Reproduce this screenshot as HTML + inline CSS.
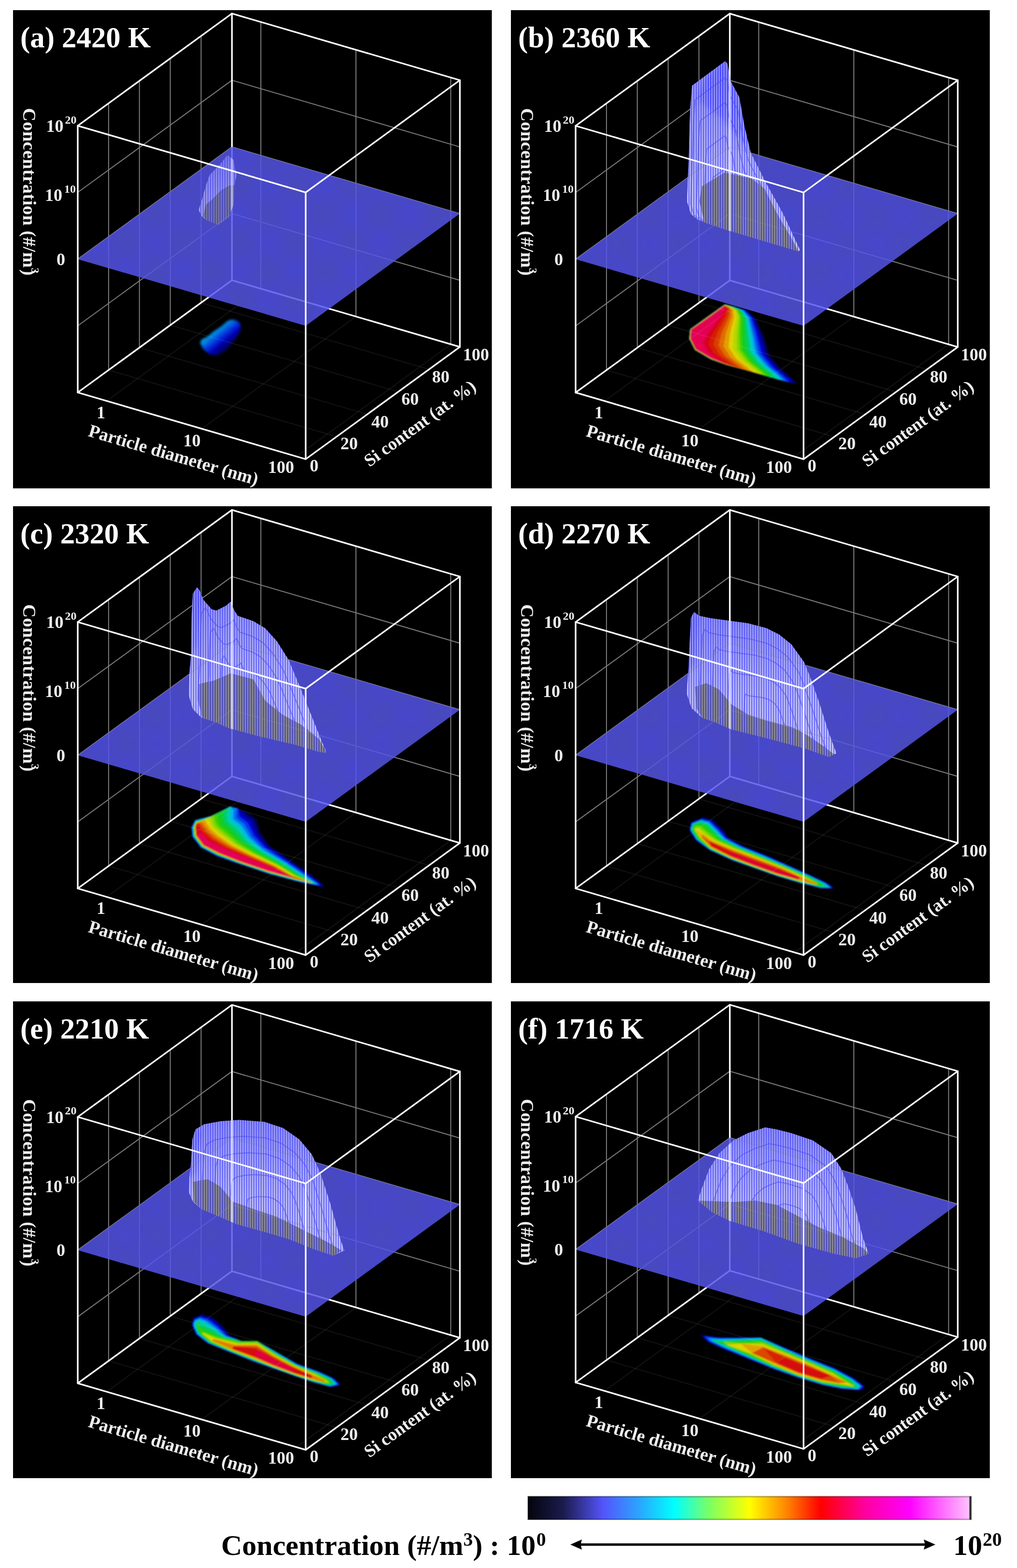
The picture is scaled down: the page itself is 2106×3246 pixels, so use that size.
<!DOCTYPE html>
<html lang="en"><head><meta charset="utf-8"><title>Concentration distributions</title>
<style>
html,body{margin:0;padding:0;background:#fff}
svg{display:block}
text{font-family:'Liberation Serif','DejaVu Serif',serif}
.tt{font-size:60.8px;fill:#fff;font-weight:bold}
.al{font-size:37.6px;fill:#eee;font-weight:bold}
.sp{font-size:23px}
.tk{font-size:36px;fill:#eee;font-weight:bold}
.ts{font-size:24px}
.tm{text-anchor:middle}
.fg{stroke:#fff;stroke-opacity:.075;stroke-width:2}
.wg{stroke:#7c7c7c;stroke-width:2}
.be{stroke:#fff;stroke-width:3.3;fill:none;stroke-linejoin:round;stroke-linecap:round}
.pl{fill:#5656f4;fill-opacity:.8}
.bt{font-size:60px;fill:#000;font-weight:bold}
.bs{font-size:39.5px}
</style></head><body>
<svg width="2106" height="3246" viewBox="0 0 2106 3246">
<defs>
<pattern id="chk" width="4" height="4" patternUnits="userSpaceOnUse"><rect width="2" height="2" fill="#3030ff" fill-opacity=".25"/><rect x="2" y="2" width="2" height="2" fill="#3030ff" fill-opacity=".25"/><rect x="2" width="2" height="2" fill="#808080" fill-opacity=".18"/><rect y="2" width="2" height="2" fill="#808080" fill-opacity=".18"/></pattern>
<linearGradient id="cbar" x1="0" x2="1" y1="0" y2="0">
<stop offset="0" stop-color="#04040c"/>
<stop offset="0.08" stop-color="#1b1b4e"/>
<stop offset="0.17" stop-color="#5454fb"/>
<stop offset="0.25" stop-color="#2ba4ff"/>
<stop offset="0.33" stop-color="#00ffff"/>
<stop offset="0.41" stop-color="#7dff62"/>
<stop offset="0.5" stop-color="#ffff00"/>
<stop offset="0.585" stop-color="#ff8200"/>
<stop offset="0.66" stop-color="#ff0000"/>
<stop offset="0.76" stop-color="#ff00a0"/>
<stop offset="0.86" stop-color="#ff00ff"/>
<stop offset="1" stop-color="#ffc8ff"/>
</linearGradient>
<filter id="bl1" x="-10%" y="-10%" width="120%" height="120%"><feGaussianBlur stdDeviation="1.6"/></filter>
<filter id="bl2" x="-20%" y="-20%" width="140%" height="140%"><feGaussianBlur stdDeviation="2.5"/></filter>
<filter id="bl3" x="-30%" y="-30%" width="160%" height="160%"><feGaussianBlur stdDeviation="5"/></filter>
<pattern id="stw" width="5" height="8" patternUnits="userSpaceOnUse"><rect width="2.5" height="8" fill="#fff" fill-opacity=".68"/></pattern>
<pattern id="stt" width="5" height="8" patternUnits="userSpaceOnUse"><rect width="2.2" height="8" fill="#9a988a" fill-opacity=".9"/></pattern>
<linearGradient id="sgr" x1="0" y1="0" x2="0" y2="1"><stop offset="0" stop-color="#4040ff" stop-opacity=".42"/><stop offset=".55" stop-color="#4040ff" stop-opacity=".12"/><stop offset="1" stop-color="#4040ff" stop-opacity="0"/></linearGradient>
</defs>
<rect width="2106" height="3246" fill="#fff"/>
<rect x="27" y="21" width="991.5" height="990" fill="#000"/>
<g transform="translate(27,21)">
<linearGradient id="cga" gradientUnits="userSpaceOnUse" x1="417.2" y1="661.2" x2="446.3" y2="696.4">
<stop offset="0" stop-color="#00a0e0"/>
<stop offset="0.2" stop-color="#0078e0"/>
<stop offset="0.45" stop-color="#0030dc"/>
<stop offset="0.7" stop-color="#0000b4"/>
<stop offset="1" stop-color="#000050"/>
</linearGradient>
<polygon filter="url(#bl2)" fill="url(#cga)" points="387.2,689.2 390.3,681.9 402.7,675.7 415.2,665.3 430.7,655 444.2,643.6 452.5,640.5 462.8,642.5 470.1,647.7 472.2,657 467,671.5 456.6,687.1 446.3,700.6 433.8,710.9 420.4,716.1 406.9,713 394.5,702.6"/>
<line class="fg" x1="197.9" y1="745" x2="669.9" y2="883"/>
<line class="fg" x1="261.7" y1="698.6" x2="733.7" y2="836.6"/>
<line class="fg" x1="325.6" y1="652.1" x2="797.6" y2="790.1"/>
<line class="fg" x1="389.4" y1="605.7" x2="861.4" y2="743.7"/>
<line class="fg" x1="193.9" y1="809" x2="513.2" y2="576.7"/>
<line class="fg" x1="390.8" y1="866.6" x2="710.1" y2="634.3"/>
<line class="fg" x1="587.1" y1="924" x2="906.4" y2="691.7"/>
<line class="wg" x1="197.9" y1="745" x2="197.9" y2="192.8"/>
<line class="wg" x1="261.7" y1="698.6" x2="261.7" y2="146.4"/>
<line class="wg" x1="325.6" y1="652.1" x2="325.6" y2="99.9"/>
<line class="wg" x1="389.4" y1="605.7" x2="389.4" y2="53.5"/>
<line class="wg" x1="513.2" y1="576.7" x2="513.2" y2="24.5"/>
<line class="wg" x1="710.1" y1="634.3" x2="710.1" y2="82.1"/>
<line class="wg" x1="906.4" y1="691.7" x2="906.4" y2="139.5"/>
<line class="wg" x1="134" y1="653.5" x2="453.3" y2="421.2"/>
<line class="wg" x1="453.3" y1="421.2" x2="925.3" y2="559.2"/>
<line class="wg" x1="134" y1="515.4" x2="453.3" y2="283.1"/>
<line class="wg" x1="453.3" y1="283.1" x2="925.3" y2="421.1"/>
<line class="wg" x1="134" y1="377.3" x2="453.3" y2="145.1"/>
<line class="wg" x1="453.3" y1="145.1" x2="925.3" y2="283.1"/>
<line class="be" x1="453.3" y1="559.2" x2="453.3" y2="7"/>
<line class="be" x1="134" y1="791.5" x2="453.3" y2="559.2"/>
<line class="be" x1="453.3" y1="559.2" x2="925.3" y2="697.2"/>
<polygon class="pl" points="134,515.4 453.3,283.1 925.3,421.1 606,653.4"/>
<polygon fill="url(#chk)" points="134,515.4 453.3,283.1 925.3,421.1 606,653.4"/>
<g opacity=".7">
<clipPath id="csa"><path clip-rule="evenodd" d="M444.2 299.7 456.6 310.1 462.8 341.2 458.7 361.9 456.6 403.4 446.3 429.3 425.5 444.8 399.6 434.4 390.3 426.2 384.1 413.7 392.4 387.8 399.6 361.9 406.9 341.2 419.3 328.7 431.8 315.3ZM446.3 364 458.7 361.9 456.6 403.4 446.3 429.3 425.5 444.8 399.6 434.4 394.5 426.2 398.6 403.4 411 393 431.8 372.3Z"/></clipPath>
<g clip-path="url(#csa)">
<polygon fill="#7474f8" fill-opacity=".95" points="444.2,299.7 456.6,310.1 462.8,341.2 458.7,361.9 456.6,403.4 446.3,429.3 425.5,444.8 399.6,434.4 390.3,426.2 384.1,413.7 392.4,387.8 399.6,361.9 406.9,341.2 419.3,328.7 431.8,315.3"/>
<polygon fill="url(#stw)" points="444.2,299.7 456.6,310.1 462.8,341.2 458.7,361.9 456.6,403.4 446.3,429.3 425.5,444.8 399.6,434.4 390.3,426.2 384.1,413.7 392.4,387.8 399.6,361.9 406.9,341.2 419.3,328.7 431.8,315.3"/>
<polygon fill="url(#sgr)" points="444.2,299.7 456.6,310.1 462.8,341.2 458.7,361.9 456.6,403.4 446.3,429.3 425.5,444.8 399.6,434.4 390.3,426.2 384.1,413.7 392.4,387.8 399.6,361.9 406.9,341.2 419.3,328.7 431.8,315.3"/>
</g>
<polygon fill="#6e6e8c" fill-opacity=".2" points="446.3,364 458.7,361.9 456.6,403.4 446.3,429.3 425.5,444.8 399.6,434.4 394.5,426.2 398.6,403.4 411,393 431.8,372.3"/>
<polygon fill="url(#stt)" points="446.3,364 458.7,361.9 456.6,403.4 446.3,429.3 425.5,444.8 399.6,434.4 394.5,426.2 398.6,403.4 411,393 431.8,372.3"/>
<clipPath id="coa"><polygon points="444.2,299.7 456.6,310.1 462.8,341.2 458.7,361.9 456.6,403.4 446.3,429.3 425.5,444.8 399.6,434.4 390.3,426.2 384.1,413.7 392.4,387.8 399.6,361.9 406.9,341.2 419.3,328.7 431.8,315.3"/></clipPath>
<g clip-path="url(#coa)"><g opacity=".3"><line class="wg" x1="197.9" y1="745" x2="197.9" y2="192.8"/><line class="wg" x1="261.7" y1="698.6" x2="261.7" y2="146.4"/><line class="wg" x1="325.6" y1="652.1" x2="325.6" y2="99.9"/><line class="wg" x1="389.4" y1="605.7" x2="389.4" y2="53.5"/><line class="wg" x1="513.2" y1="576.7" x2="513.2" y2="24.5"/><line class="wg" x1="710.1" y1="634.3" x2="710.1" y2="82.1"/><line class="wg" x1="906.4" y1="691.7" x2="906.4" y2="139.5"/><line class="wg" x1="134" y1="653.5" x2="453.3" y2="421.2"/><line class="wg" x1="453.3" y1="421.2" x2="925.3" y2="559.2"/><line class="wg" x1="134" y1="515.4" x2="453.3" y2="283.1"/><line class="wg" x1="453.3" y1="283.1" x2="925.3" y2="421.1"/><line class="wg" x1="134" y1="377.3" x2="453.3" y2="145.1"/><line class="wg" x1="453.3" y1="145.1" x2="925.3" y2="283.1"/></g><g opacity=".7"><line class="be" x1="453.3" y1="559.2" x2="453.3" y2="7"/></g></g>
</g>
<polygon class="be" points="134,791.5 134,239.3 453.3,7 925.3,145 925.3,697.2 606,929.5"/>
<polyline class="be" points="134,239.3 606,377.3 925.3,145"/>
<line class="be" x1="606" y1="377.3" x2="606" y2="929.5"/>
<text class="tt" x="15" y="76.8">(a) 2420 K</text>
<text class="al" style="font-size:38.5px;letter-spacing:.5px" transform="translate(21,202.6) rotate(90)">Concentration (#/m<tspan class="sp" dy="-17">3</tspan><tspan dy="17" dx="-9">)</tspan></text>
<text class="tk" x="68.5" y="252">10<tspan class="ts" dy="-17.5" dx="3">20</tspan></text>
<text class="tk" x="66" y="395">10<tspan class="ts" dy="-17.5" dx="4">10</tspan></text>
<text class="tk" x="90" y="528">0</text>
<text class="tk tm" x="182" y="844.5">1</text>
<text class="tk tm" x="370.4" y="902.5">10</text>
<text class="tk tm" x="555" y="958">100</text>
<text class="al" transform="translate(154,881.5) rotate(16.30)">Particle diameter (nm)</text>
<text class="tk tm" x="623.6" y="955">0</text>
<text class="tk tm" x="696" y="909.2">20</text>
<text class="tk tm" x="760" y="864.2">40</text>
<text class="tk tm" x="822.3" y="817.2">60</text>
<text class="tk tm" x="885.7" y="771.2">80</text>
<text class="tk tm" x="958.8" y="725.2">100</text>
<text class="al" style="font-size:36.8px" transform="translate(738,946.5) rotate(-36.04)">Si content (at. %)</text>
</g>
<rect x="1058" y="21" width="991.7" height="990" fill="#000"/>
<g transform="translate(1058,21.2)">
<g filter="url(#bl1)">
<polygon fill="#000046" points="443,608.9 458.6,612.8 489.7,621.5 507.1,637.1 524.6,675.9 536.3,714.8 561.5,743.9 584.9,763.4 594.6,774.1 575.1,770.2 536.3,759.5 497.4,747.8 446.9,734.2 413.9,722.6 380.9,703.1 369.2,679.8 371.1,660.4 406.1,635.1"/>
<polygon fill="#000092" points="443,608.9 458.6,612.8 487.7,621.5 504,636.9 519.7,675.5 530.3,713.6 554.9,742.4 578.2,761.6 588,772.3 575.1,770.2 536.3,759.5 497.4,747.8 446.9,734.2 413.9,722.6 380.9,703.1 369.2,679.8 371.1,660.4 406.1,635.1"/>
<polygon fill="#0006d8" points="443,608.9 458.6,612.8 485.6,621.4 501,636.8 514.8,675.1 524.4,712.5 548.3,740.8 571.5,759.9 581.5,770.5 575.1,770.2 536.3,759.5 497.4,747.8 446.9,734.2 413.9,722.6 380.9,703.1 369.2,679.8 371.1,660.4 406.1,635.1"/>
<polygon fill="#003de5" points="443,608.9 458.6,612.8 483.6,621.3 497.9,636.6 509.8,674.7 518.5,711.3 541.7,739.2 564.8,758.1 575,768.7 574.1,769.9 536.3,759.5 497.4,747.8 446.9,734.2 413.9,722.6 380.9,703.1 369.2,679.8 371.1,660.4 406.1,635.1"/>
<polygon fill="#0076ee" points="443,608.9 458.6,612.8 481.6,621.2 494.8,636.4 504.9,674.3 512.5,710.1 535.1,737.6 558.1,756.3 568.5,766.9 567.4,768 536.3,759.5 497.4,747.8 446.9,734.2 413.9,722.6 380.9,703.1 369.2,679.8 371.1,660.4 406.1,635.1"/>
<polygon fill="#00b8e4" points="443,608.9 458.6,612.8 479.8,621.1 491.9,636.3 500.4,673.9 507.1,709.1 529.1,736.1 552,754.7 562.5,765.2 560.8,766 536.3,759.5 497.4,747.8 446.9,734.2 413.9,722.6 380.9,703.1 369.2,679.8 371.1,660.4 406.1,635.1"/>
<polygon fill="#00cdb1" points="443,609 458.3,612.9 478,621.1 489.2,636.1 496,673.5 501.8,708 523.2,734.7 546.1,753.2 556.7,763.6 554.1,764.1 536.3,759.5 497.4,747.8 446.9,734.2 413.9,722.5 380.9,703.1 369.3,679.8 371.2,660.4 406.1,635.2"/>
<polygon fill="#00cd6a" points="443,609.2 457.5,613 476.2,621 486.4,636 491.5,673.1 496.4,706.9 517.2,733.3 539.9,751.6 550.8,762 547.8,762.3 536.3,759.5 497.4,747.8 446.9,734.2 414,722.4 381,703 369.4,679.8 371.3,660.5 406.2,635.3"/>
<polygon fill="#0acd3b" points="442.9,609.4 456.6,613.2 474.3,620.9 483.5,635.8 486.9,672.7 490.9,705.9 511,731.8 533.7,749.9 544.7,760.3 541.9,760.6 533.6,758.7 497.4,747.8 446.9,734.2 414.1,722.2 381.2,702.9 369.6,679.7 371.5,660.5 406.3,635.5"/>
<polygon fill="#17cd14" points="442.8,609.6 455.8,613.4 472.5,620.8 480.6,635.7 482.3,672.4 485.4,704.8 504.9,730.3 527.5,748.3 538.7,758.6 535.7,758.9 526.9,756.8 497.4,747.8 446.9,734.2 414.2,722.1 381.3,702.8 369.8,679.7 371.6,660.6 406.4,635.6"/>
<polygon fill="#3ed000" points="442.8,609.8 455.1,613.5 470.6,620.7 477.7,635.5 477.8,672 479.9,703.7 498.8,728.8 521.3,746.7 532.6,757 529.5,757.1 520.2,754.8 497.4,747.8 446.8,734.1 414.3,721.9 381.5,702.6 369.9,679.7 371.8,660.6 406.5,635.7"/>
<polygon fill="#7dd500" points="442.7,609.9 454.3,613.7 468.7,620.7 474.9,635.3 473.2,671.6 474.4,702.6 492.7,727.4 515.1,745.1 526.6,755.3 523.3,755.3 514.2,753 497.4,747.8 446.5,733.9 414.4,721.8 381.6,702.5 370.1,679.6 371.9,660.6 406.6,635.9"/>
<polygon fill="#b4d700" points="442.7,610.1 453.6,613.9 466.6,620.6 471.7,635.2 468,671.1 468.2,701.4 485.8,725.7 508.1,743.2 519.8,753.4 517.1,753.5 508.1,751.3 493.9,746.8 446.3,733.6 414.5,721.6 381.7,702.4 370.3,679.6 372.1,660.7 406.7,636"/>
<polygon fill="#e1d300" points="442.6,610.3 452.8,614 463.7,620.5 467.2,634.9 460.9,670.5 459.6,699.7 476.2,723.4 498.5,740.7 510.3,750.8 510.4,751.6 501.9,749.5 488.1,745.2 446.1,733.4 414.5,721.5 381.9,702.3 370.4,679.6 372.2,660.7 406.8,636.1"/>
<polygon fill="#e29e00" points="442.6,610.5 452,614.2 460.8,620.3 462.6,634.7 453.6,669.9 450.8,697.9 466.4,721.1 488.5,738.1 500.6,748.2 500.7,748.8 495.7,747.6 482.8,743.6 445.8,733.2 414.6,721.3 382,702.2 370.6,679.5 372.4,660.8 406.9,636.3"/>
<polygon fill="#e06c00" points="442.5,610.8 450.8,614.5 457.2,620.2 457.1,634.4 444.9,669.2 440.3,695.9 454.7,718.3 476.7,735 489.1,745 490.3,745.8 488.3,745.5 477.4,742.1 445.6,732.9 414.8,721.1 382.2,702 370.9,679.5 372.6,660.8 407,636.5"/>
<polygon fill="#d93d00" points="442.4,611.1 449.4,614.8 453.7,620 451.7,634.1 436.1,668.4 429.8,693.8 443.1,715.4 464.9,731.9 477.6,741.8 478.5,742.5 478.5,742.6 471.9,740.5 445.3,732.6 414.9,720.9 382.4,701.8 371.2,679.4 372.8,660.9 407.2,636.7"/>
<polygon fill="#d61b06" points="442.3,611.5 447.9,615.1 450.1,619.9 446.2,633.8 427.4,667.7 419.3,691.7 431.4,712.6 453.1,728.8 466.1,738.6 466.7,739.1 466.7,739.2 463.7,738.2 444.9,732.2 415.1,720.6 382.7,701.6 371.5,679.4 373.1,661 407.3,637"/>
<polygon fill="#d8061d" points="442.2,611.9 446.4,615.4 446.6,619.7 440.7,633.5 418.7,667 408.8,689.7 419.7,709.8 441.2,725.7 454.6,735.5 454.8,735.7 454.8,735.7 453.4,735.2 444.4,731.8 415.3,720.3 382.9,701.4 371.8,679.3 373.4,661.1 407.5,637.2"/>
<polygon fill="#e40052" points="442.1,612.2 445,615.7 443,619.6 435.3,633.2 410,666.2 398.3,687.6 408.1,707 429.4,722.6 443,732.3 443,732.3 443,732.3 443,732.3 444,731.3 415.4,720 383.2,701.2 372.1,679.2 373.7,661.2 407.7,637.5"/>
</g>
<line class="fg" x1="197.9" y1="745" x2="669.9" y2="883"/>
<line class="fg" x1="261.7" y1="698.6" x2="733.7" y2="836.6"/>
<line class="fg" x1="325.6" y1="652.1" x2="797.6" y2="790.1"/>
<line class="fg" x1="389.4" y1="605.7" x2="861.4" y2="743.7"/>
<line class="fg" x1="193.9" y1="809" x2="513.2" y2="576.7"/>
<line class="fg" x1="390.8" y1="866.6" x2="710.1" y2="634.3"/>
<line class="fg" x1="587.1" y1="924" x2="906.4" y2="691.7"/>
<line class="wg" x1="197.9" y1="745" x2="197.9" y2="192.8"/>
<line class="wg" x1="261.7" y1="698.6" x2="261.7" y2="146.4"/>
<line class="wg" x1="325.6" y1="652.1" x2="325.6" y2="99.9"/>
<line class="wg" x1="389.4" y1="605.7" x2="389.4" y2="53.5"/>
<line class="wg" x1="513.2" y1="576.7" x2="513.2" y2="24.5"/>
<line class="wg" x1="710.1" y1="634.3" x2="710.1" y2="82.1"/>
<line class="wg" x1="906.4" y1="691.7" x2="906.4" y2="139.5"/>
<line class="wg" x1="134" y1="653.5" x2="453.3" y2="421.2"/>
<line class="wg" x1="453.3" y1="421.2" x2="925.3" y2="559.2"/>
<line class="wg" x1="134" y1="515.4" x2="453.3" y2="283.1"/>
<line class="wg" x1="453.3" y1="283.1" x2="925.3" y2="421.1"/>
<line class="wg" x1="134" y1="377.3" x2="453.3" y2="145.1"/>
<line class="wg" x1="453.3" y1="145.1" x2="925.3" y2="283.1"/>
<line class="be" x1="453.3" y1="559.2" x2="453.3" y2="7"/>
<line class="be" x1="134" y1="791.5" x2="453.3" y2="559.2"/>
<line class="be" x1="453.3" y1="559.2" x2="925.3" y2="697.2"/>
<polygon class="pl" points="134,515.4 453.3,283.1 925.3,421.1 606,653.4"/>
<polygon fill="url(#chk)" points="134,515.4 453.3,283.1 925.3,421.1 606,653.4"/>
<g>
<clipPath id="csb"><path clip-rule="evenodd" d="M443.6 105.4 374.9 156 371 203.9 368.4 292 364.5 395.6 372.3 421.5 387.9 434.4 447.4 455.2 525.2 478.5 595.1 499.2 599 496.6 564 421.5 525.2 351.5 496.7 294.6 483.7 240.1 473.3 180.6 455.2 146.9 448.7 110.6ZM395.6 364.5 442.3 336 499.3 349 525.2 369.7 551.1 421.5 584.7 478.5 595.1 499.2 525.2 478.5 447.4 455.2 400.8 439.6 390.4 395.6Z"/></clipPath>
<g clip-path="url(#csb)">
<polygon fill="#7474f8" fill-opacity=".95" points="443.6,105.4 374.9,156 371,203.9 368.4,292 364.5,395.6 372.3,421.5 387.9,434.4 447.4,455.2 525.2,478.5 595.1,499.2 599,496.6 564,421.5 525.2,351.5 496.7,294.6 483.7,240.1 473.3,180.6 455.2,146.9 448.7,110.6"/>
<polygon fill="#3c3cff" fill-opacity=".8" filter="url(#bl3)" points="443.6,105.4 448.7,110.6 455.2,146.9 473.3,180.6 483.7,240.1 496.7,294.6 473.3,266.1 437.1,224.6 395.6,193.5 385.3,180.6 400.8,144.3"/>
<polygon fill="url(#stw)" points="443.6,105.4 374.9,156 371,203.9 368.4,292 364.5,395.6 372.3,421.5 387.9,434.4 447.4,455.2 525.2,478.5 595.1,499.2 599,496.6 564,421.5 525.2,351.5 496.7,294.6 483.7,240.1 473.3,180.6 455.2,146.9 448.7,110.6"/>
<polygon fill="url(#sgr)" points="443.6,105.4 374.9,156 371,203.9 368.4,292 364.5,395.6 372.3,421.5 387.9,434.4 447.4,455.2 525.2,478.5 595.1,499.2 599,496.6 564,421.5 525.2,351.5 496.7,294.6 483.7,240.1 473.3,180.6 455.2,146.9 448.7,110.6"/>
<polygon fill="none" stroke="#4a4af4" stroke-opacity=".55" stroke-width="2.2" points="442.5,328.6 418.5,346.3 417.2,363.1 416.2,393.9 414.9,430.2 417.6,439.2 423,443.8 443.9,451 471.1,459.2 495.6,466.4 496.9,465.5 484.7,439.2 471.1,414.8 461.1,394.8 456.6,375.8 453,354.9 446.6,343.1 444.4,330.4"/>
<polygon fill="none" stroke="#4a4af4" stroke-opacity=".55" stroke-width="2.2" points="442.9,259.9 405.1,287.7 403,314.1 401.5,362.5 399.4,419.5 403.7,433.8 412.2,440.9 445,452.3 487.7,465.1 526.2,476.5 528.3,475.1 509.1,433.8 487.7,395.3 472.1,364 464.9,334 459.2,301.3 449.3,282.7 445.7,262.8"/>
<polygon fill="none" stroke="#4a4af4" stroke-opacity=".55" stroke-width="2.2" points="443.2,191.3 391.7,229.2 388.8,265.1 386.8,331.2 383.9,408.9 389.7,428.3 401.4,438 446.1,453.6 504.4,471.1 556.8,486.6 559.7,484.7 533.5,428.3 504.4,375.9 483,333.1 473.3,292.3 465.5,247.6 451.9,222.4 447.1,195.2"/>
<polygon fill="none" stroke="#4a4af4" stroke-opacity=".55" stroke-width="2.2" points="443.4,139.8 381.6,185.2 378.1,228.4 375.8,307.6 372.3,400.9 379.3,424.2 393.3,435.9 446.9,454.5 516.8,475.5 579.8,494.2 583.3,491.8 551.8,424.2 516.8,361.3 491.2,310 479.5,261 470.2,207.4 453.9,177.1 448.1,144.4"/>
</g>
<polygon fill="#6e6e8c" fill-opacity=".2" points="395.6,364.5 442.3,336 499.3,349 525.2,369.7 551.1,421.5 584.7,478.5 595.1,499.2 525.2,478.5 447.4,455.2 400.8,439.6 390.4,395.6"/>
<polygon fill="url(#stt)" points="395.6,364.5 442.3,336 499.3,349 525.2,369.7 551.1,421.5 584.7,478.5 595.1,499.2 525.2,478.5 447.4,455.2 400.8,439.6 390.4,395.6"/>
<clipPath id="cob"><polygon points="443.6,105.4 374.9,156 371,203.9 368.4,292 364.5,395.6 372.3,421.5 387.9,434.4 447.4,455.2 525.2,478.5 595.1,499.2 599,496.6 564,421.5 525.2,351.5 496.7,294.6 483.7,240.1 473.3,180.6 455.2,146.9 448.7,110.6"/></clipPath>
<g clip-path="url(#cob)"><g opacity=".3"><line class="wg" x1="197.9" y1="745" x2="197.9" y2="192.8"/><line class="wg" x1="261.7" y1="698.6" x2="261.7" y2="146.4"/><line class="wg" x1="325.6" y1="652.1" x2="325.6" y2="99.9"/><line class="wg" x1="389.4" y1="605.7" x2="389.4" y2="53.5"/><line class="wg" x1="513.2" y1="576.7" x2="513.2" y2="24.5"/><line class="wg" x1="710.1" y1="634.3" x2="710.1" y2="82.1"/><line class="wg" x1="906.4" y1="691.7" x2="906.4" y2="139.5"/><line class="wg" x1="134" y1="653.5" x2="453.3" y2="421.2"/><line class="wg" x1="453.3" y1="421.2" x2="925.3" y2="559.2"/><line class="wg" x1="134" y1="515.4" x2="453.3" y2="283.1"/><line class="wg" x1="453.3" y1="283.1" x2="925.3" y2="421.1"/><line class="wg" x1="134" y1="377.3" x2="453.3" y2="145.1"/><line class="wg" x1="453.3" y1="145.1" x2="925.3" y2="283.1"/></g><g opacity=".7"><line class="be" x1="453.3" y1="559.2" x2="453.3" y2="7"/></g></g>
</g>
<polygon class="be" points="134,791.5 134,239.3 453.3,7 925.3,145 925.3,697.2 606,929.5"/>
<polyline class="be" points="134,239.3 606,377.3 925.3,145"/>
<line class="be" x1="606" y1="377.3" x2="606" y2="929.5"/>
<text class="tt" x="15" y="76.8">(b) 2360 K</text>
<text class="al" style="font-size:38.5px;letter-spacing:.5px" transform="translate(21,202.6) rotate(90)">Concentration (#/m<tspan class="sp" dy="-17">3</tspan><tspan dy="17" dx="-9">)</tspan></text>
<text class="tk" x="68.5" y="252">10<tspan class="ts" dy="-17.5" dx="3">20</tspan></text>
<text class="tk" x="66" y="395">10<tspan class="ts" dy="-17.5" dx="4">10</tspan></text>
<text class="tk" x="90" y="528">0</text>
<text class="tk tm" x="182" y="844.5">1</text>
<text class="tk tm" x="370.4" y="902.5">10</text>
<text class="tk tm" x="555" y="958">100</text>
<text class="al" transform="translate(154,881.5) rotate(16.30)">Particle diameter (nm)</text>
<text class="tk tm" x="623.6" y="955">0</text>
<text class="tk tm" x="696" y="909.2">20</text>
<text class="tk tm" x="760" y="864.2">40</text>
<text class="tk tm" x="822.3" y="817.2">60</text>
<text class="tk tm" x="885.7" y="771.2">80</text>
<text class="tk tm" x="958.8" y="725.2">100</text>
<text class="al" style="font-size:36.8px" transform="translate(738,946.5) rotate(-36.04)">Si content (at. %)</text>
</g>
<rect x="27" y="1048" width="991.5" height="987" fill="#000"/>
<g transform="translate(27,1048.7) scale(1,0.9988)">
<g filter="url(#bl1)">
<polygon fill="#000046" points="449.7,621.8 465.1,625.1 487.2,633.9 504.8,647.1 513.6,675.8 531.2,702.3 575.2,733.1 619.3,764 645.7,786 641.3,788.7 597.3,779.9 531.2,762.2 465.1,740.2 421.1,724.7 388.1,707.1 370.4,684.6 368.2,664.8 377,649.3 410.1,641.6"/>
<polygon fill="#000092" points="449.7,621.8 465.1,625.1 480.8,636.6 498.4,649.9 508.7,677.8 528,703.7 572.6,734 616,764.1 642,785.1 638.2,787.4 595.9,779 531.1,761.8 465.5,739.9 421.5,724.3 388.5,706.7 371.1,684.4 368.9,664.8 377,649.3 410.1,641.6"/>
<polygon fill="#0006d8" points="449.7,621.8 465.1,625.1 474.5,639.3 492.1,652.8 503.8,679.9 524.8,705.2 570,734.9 612.7,764.2 638.3,784.2 635.1,786.2 594.5,778.2 531.1,761.3 466,739.6 421.9,723.8 389,706.3 371.8,684.2 369.6,664.8 377.1,649.4 410.1,641.6"/>
<polygon fill="#003de5" points="449.7,621.8 465.1,625.1 468.1,642 485.7,655.6 499,681.9 521.6,706.7 567.4,735.7 609.5,764.4 634.9,783.3 632.3,785.1 593.1,777.4 531,760.9 466.4,739.3 422.3,723.4 389.4,706 372.4,684 370.3,664.8 377.3,650.1 410.1,641.6"/>
<polygon fill="#0076ee" points="449.7,621.8 463.7,625.8 461.8,644.7 479.3,658.4 494.1,684 518.4,708.2 564.8,736.6 606.2,764.5 631.6,782.5 629.6,784 591.7,776.6 530.9,760.4 466.8,738.9 422.8,723 389.9,705.6 373.1,683.8 371,664.8 377.5,650.7 410.1,641.6"/>
<polygon fill="#00b8e4" points="449.7,621.8 456.7,629.3 455.7,647.3 473.2,661.1 489.4,686 515.3,709.7 562.2,737.5 603.3,764.6 628.5,781.7 627,782.9 590.5,775.9 530.8,760 467.2,738.6 423.2,722.5 390.3,705.2 373.7,683.6 371.7,664.8 377.8,651.3 410.1,641.6"/>
<polygon fill="#00cdb1" points="449.7,621.8 449.7,632.7 450.1,649.7 467.5,663.6 485,687.8 512.4,711 559.9,738.3 600.4,764.7 625.7,781 624.6,782 589.3,775.2 530.8,759.6 467.6,738.4 423.5,722.1 390.7,704.9 374.3,683.4 372.3,664.8 378,652 409.1,642.1"/>
<polygon fill="#00cd6a" points="446.9,623.3 442.6,636.2 444.5,652.1 461.9,666.1 480.7,689.6 509.6,712.3 557.6,739 597.4,764.9 622.9,780.3 622.3,781.1 588,774.4 530.7,759.2 467.9,738.1 423.9,721.7 391.2,704.6 374.9,683.3 372.9,664.8 378.2,652.5 405.9,643.9"/>
<polygon fill="#0acd3b" points="438.7,627.6 436.3,639.4 438.8,654.5 456.2,668.6 476.4,691.4 506.8,713.6 555.3,739.8 594.5,765 620.5,779.7 620.3,780.3 586.8,773.7 530.7,758.8 468.3,737.8 424.3,721.3 391.6,704.2 375.5,683.1 373.5,664.8 378.4,653.1 402.6,645.6"/>
<polygon fill="#17cd14" points="430.5,631.9 430,642.5 433.2,656.9 450.6,671.1 472.1,693.2 503.9,715 552.9,740.6 591.7,765.1 619.3,779.4 619.3,779.9 585.7,773 530.6,758.4 468.7,737.6 424.6,720.9 392,703.9 376.1,682.9 374.1,664.8 378.7,653.7 399.6,647.2"/>
<polygon fill="#3ed000" points="423.2,635.8 423.8,645.6 427.6,659.3 444.9,673.6 467.7,695.1 501.1,716.3 550.6,741.4 589.2,765.2 619.3,779.4 619.3,779.9 584.6,772.4 530.5,758 469.1,737.3 425,720.5 392.4,703.6 376.6,682.7 374.7,664.8 378.9,654.2 396.8,648.7"/>
<polygon fill="#7dd500" points="415.9,639.6 417.5,648.6 422.7,661.3 439.8,675.9 463.8,696.7 498.5,717.5 548.5,742.1 586.8,765.3 619.3,779.4 619.3,779.9 583.6,771.8 530.5,757.7 469.4,737 425.4,720.2 392.7,703.3 377.1,682.6 375.2,664.8 379,654.7 393.9,650.2"/>
<polygon fill="#b4d700" points="408.8,643.4 412.1,651.3 417.9,663.4 435,678 460.1,698.3 496.1,718.6 546.5,742.7 584.3,765.4 619.3,779.4 619.3,779.9 582.5,771.2 530.4,757.3 469.7,736.8 425.7,719.8 393.1,703 377.6,682.4 375.7,664.8 379.2,655.2 391.3,651.6"/>
<polygon fill="#e1d300" points="402.7,646.6 406.9,653.9 413.2,665.4 430.2,680.1 456.5,699.8 493.7,719.7 544.6,743.4 581.8,765.5 619.3,779.4 619.3,779.9 581.5,770.6 530.4,757 470,736.6 426,719.5 393.4,702.7 378.1,682.3 376.3,664.8 379.4,655.7 388.8,652.9"/>
<polygon fill="#e29e00" points="396.5,649.9 401.6,656.5 408.4,667.4 425.4,682.2 452.8,701.3 491.3,720.8 542.6,744.1 579.4,765.6 619.3,779.4 619.3,779.9 580.6,770.1 530.3,756.7 470.3,736.4 426.3,719.2 393.8,702.4 378.6,682.1 376.8,664.8 379.6,656.2 386.4,654.2"/>
<polygon fill="#e06c00" points="390.6,653 396.2,659.2 403.6,669.5 420.6,684.4 449.2,702.9 488.9,722 540.6,744.7 577.5,765.7 619.3,779.4 619.3,779.9 579.8,769.6 530.3,756.3 470.7,736.1 426.6,718.8 394.1,702.1 379.1,682 377.3,664.8 379.7,656.6 384.1,655.4"/>
<polygon fill="#d93d00" points="385.7,655.6 391.8,661.4 399,671.4 415.8,686.5 445.5,704.4 486.4,723.1 538.7,745.4 575.5,765.7 619.3,779.4 579.6,769.5 530.2,756 471,735.9 426.9,718.5 394.5,701.8 379.6,681.8 377.7,664.8 379.9,657 382.2,656.5"/>
<polygon fill="#d61b06" points="385,655.9 387.6,663.5 395.2,673.1 411.7,688.3 442.3,705.8 484.4,724.1 536.9,746 575.2,765.7 579.6,769.5 530.2,755.7 471.2,735.7 427.2,718.2 394.8,701.6 380,681.7 378.1,664.8 379.9,657.1"/>
<polygon fill="#d8061d" points="387.2,663.7 391.4,674.7 407.9,690 439.4,707 482.4,725 535.4,746.5 575.2,765.7 579.6,769.5 530.1,755.4 471.5,735.5 427.4,717.9 395,701.4 380.4,681.6 378.1,664.8"/>
<polygon fill="#e40052" points="389.8,675.4 404.1,691.7 436.5,708.2 480.5,725.8 533.8,747 575.2,765.7 579.6,769.5 530.1,755.2 471.7,735.3 427.7,717.7 395.3,701.1 380.6,681.5"/>
</g>
<line class="fg" x1="197.9" y1="745" x2="669.9" y2="883"/>
<line class="fg" x1="261.7" y1="698.6" x2="733.7" y2="836.6"/>
<line class="fg" x1="325.6" y1="652.1" x2="797.6" y2="790.1"/>
<line class="fg" x1="389.4" y1="605.7" x2="861.4" y2="743.7"/>
<line class="fg" x1="193.9" y1="809" x2="513.2" y2="576.7"/>
<line class="fg" x1="390.8" y1="866.6" x2="710.1" y2="634.3"/>
<line class="fg" x1="587.1" y1="924" x2="906.4" y2="691.7"/>
<line class="wg" x1="197.9" y1="745" x2="197.9" y2="192.8"/>
<line class="wg" x1="261.7" y1="698.6" x2="261.7" y2="146.4"/>
<line class="wg" x1="325.6" y1="652.1" x2="325.6" y2="99.9"/>
<line class="wg" x1="389.4" y1="605.7" x2="389.4" y2="53.5"/>
<line class="wg" x1="513.2" y1="576.7" x2="513.2" y2="24.5"/>
<line class="wg" x1="710.1" y1="634.3" x2="710.1" y2="82.1"/>
<line class="wg" x1="906.4" y1="691.7" x2="906.4" y2="139.5"/>
<line class="wg" x1="134" y1="653.5" x2="453.3" y2="421.2"/>
<line class="wg" x1="453.3" y1="421.2" x2="925.3" y2="559.2"/>
<line class="wg" x1="134" y1="515.4" x2="453.3" y2="283.1"/>
<line class="wg" x1="453.3" y1="283.1" x2="925.3" y2="421.1"/>
<line class="wg" x1="134" y1="377.3" x2="453.3" y2="145.1"/>
<line class="wg" x1="453.3" y1="145.1" x2="925.3" y2="283.1"/>
<line class="be" x1="453.3" y1="559.2" x2="453.3" y2="7"/>
<line class="be" x1="134" y1="791.5" x2="453.3" y2="559.2"/>
<line class="be" x1="453.3" y1="559.2" x2="925.3" y2="697.2"/>
<polygon class="pl" points="134,515.4 453.3,283.1 925.3,421.1 606,653.4"/>
<polygon fill="url(#chk)" points="134,515.4 453.3,283.1 925.3,421.1 606,653.4"/>
<g>
<clipPath id="csc"><path clip-rule="evenodd" d="M380.7 167.2 372.1 180.7 369.6 230 368.4 304 364.7 353.2 363.5 390.2 372.1 419.8 389.3 437 418.8 446.9 445.9 459.2 509.9 476.4 583.7 493.7 633 508.5 650.2 510.9 640.3 488.8 620.7 439.5 596 377.9 571.4 318.7 546.8 279.3 522.2 252.2 497.6 237.4 465.6 226.3 458.2 215.2 450.8 196.8 441 205.4 421.3 215.2 411.4 212.8 394.2 193.1 385.6 172.1ZM384.4 368 416.4 360.6 450.8 345.8 497.6 358.2 522.2 402.5 559.1 432.1 596 451.8 633 481.4 650.2 510.9 633 508.5 583.7 493.7 509.9 476.4 445.9 459.2 418.8 446.9 391.8 437 384.4 402.5Z"/></clipPath>
<g clip-path="url(#csc)">
<polygon fill="#7474f8" fill-opacity=".95" points="380.7,167.2 372.1,180.7 369.6,230 368.4,304 364.7,353.2 363.5,390.2 372.1,419.8 389.3,437 418.8,446.9 445.9,459.2 509.9,476.4 583.7,493.7 633,508.5 650.2,510.9 640.3,488.8 620.7,439.5 596,377.9 571.4,318.7 546.8,279.3 522.2,252.2 497.6,237.4 465.6,226.3 458.2,215.2 450.8,196.8 441,205.4 421.3,215.2 411.4,212.8 394.2,193.1 385.6,172.1"/>
<polygon fill="#3c3cff" fill-opacity=".8" filter="url(#bl3)" points="380.7,167.2 372.1,180.7 369.6,230 368.4,304 381.9,291.6 386.8,242.3 391.8,205.4 394.2,193.1 385.6,172.1"/>
<polygon fill="url(#stw)" points="380.7,167.2 372.1,180.7 369.6,230 368.4,304 364.7,353.2 363.5,390.2 372.1,419.8 389.3,437 418.8,446.9 445.9,459.2 509.9,476.4 583.7,493.7 633,508.5 650.2,510.9 640.3,488.8 620.7,439.5 596,377.9 571.4,318.7 546.8,279.3 522.2,252.2 497.6,237.4 465.6,226.3 458.2,215.2 450.8,196.8 441,205.4 421.3,215.2 411.4,212.8 394.2,193.1 385.6,172.1"/>
<polygon fill="url(#sgr)" points="380.7,167.2 372.1,180.7 369.6,230 368.4,304 364.7,353.2 363.5,390.2 372.1,419.8 389.3,437 418.8,446.9 445.9,459.2 509.9,476.4 583.7,493.7 633,508.5 650.2,510.9 640.3,488.8 620.7,439.5 596,377.9 571.4,318.7 546.8,279.3 522.2,252.2 497.6,237.4 465.6,226.3 458.2,215.2 450.8,196.8 441,205.4 421.3,215.2 411.4,212.8 394.2,193.1 385.6,172.1"/>
<polygon fill="none" stroke="#4a4af4" stroke-opacity=".55" stroke-width="2.2" points="459.3,366.4 456.7,370.5 456,385.3 455.6,407.5 454.5,422.3 454.1,433.3 456.7,442.2 461.9,447.4 470.7,450.4 478.9,454 498.1,459.2 520.2,464.4 535,468.8 540.2,469.6 537.2,462.9 531.3,448.1 523.9,429.7 516.5,411.9 509.1,400.1 501.8,392 494.4,387.5 484.8,384.2 482.6,380.9 480.3,375.3 477.4,377.9 471.5,380.9 468.5,380.1 463.4,374.2 460.8,367.9"/>
<polygon fill="none" stroke="#4a4af4" stroke-opacity=".55" stroke-width="2.2" points="436.8,309.5 432.5,316.3 431.3,340.9 430.7,377.9 428.8,402.5 428.2,421 432.5,435.8 441.1,444.4 455.9,449.4 469.5,455.5 501.4,464.1 538.4,472.8 563,480.2 571.6,481.4 566.7,470.3 556.8,445.7 544.5,414.9 532.2,385.3 519.9,365.6 507.6,352 495.3,344.6 479.3,339.1 475.6,333.5 471.9,324.3 467,328.6 457.1,333.5 452.2,332.3 443.6,322.5 439.3,312"/>
<polygon fill="none" stroke="#4a4af4" stroke-opacity=".55" stroke-width="2.2" points="414.4,252.6 408.3,262.1 406.6,296.6 405.8,348.3 403.2,382.8 402.3,408.7 408.3,429.4 420.4,441.5 441.1,448.4 460,457 504.8,469.1 556.5,481.1 591,491.5 603,493.2 596.1,477.7 582.4,443.2 565.1,400.1 547.9,358.7 530.7,331.1 513.4,312.1 496.2,301.7 473.8,294 468.6,286.2 463.5,273.3 456.6,279.3 442.8,286.2 435.9,284.5 423.9,270.7 417.8,256"/>
<polygon fill="none" stroke="#4a4af4" stroke-opacity=".55" stroke-width="2.2" points="397.5,209.9 390.2,221.4 388.1,263.3 387.1,326.1 383.9,368 382.9,399.4 390.2,424.6 404.9,439.2 430,447.6 453,458.1 507.4,472.8 570.1,487.4 612,500 626.6,502.1 618.2,483.2 601.5,441.3 580.6,389 559.7,338.7 538.7,305.2 517.8,282.1 496.9,269.6 469.7,260.2 463.4,250.7 457.2,235 448.8,242.4 432.1,250.7 423.7,248.6 409,231.9 401.7,214.1"/>
</g>
<polygon fill="#6e6e8c" fill-opacity=".2" points="384.4,368 416.4,360.6 450.8,345.8 497.6,358.2 522.2,402.5 559.1,432.1 596,451.8 633,481.4 650.2,510.9 633,508.5 583.7,493.7 509.9,476.4 445.9,459.2 418.8,446.9 391.8,437 384.4,402.5"/>
<polygon fill="url(#stt)" points="384.4,368 416.4,360.6 450.8,345.8 497.6,358.2 522.2,402.5 559.1,432.1 596,451.8 633,481.4 650.2,510.9 633,508.5 583.7,493.7 509.9,476.4 445.9,459.2 418.8,446.9 391.8,437 384.4,402.5"/>
<clipPath id="coc"><polygon points="380.7,167.2 372.1,180.7 369.6,230 368.4,304 364.7,353.2 363.5,390.2 372.1,419.8 389.3,437 418.8,446.9 445.9,459.2 509.9,476.4 583.7,493.7 633,508.5 650.2,510.9 640.3,488.8 620.7,439.5 596,377.9 571.4,318.7 546.8,279.3 522.2,252.2 497.6,237.4 465.6,226.3 458.2,215.2 450.8,196.8 441,205.4 421.3,215.2 411.4,212.8 394.2,193.1 385.6,172.1"/></clipPath>
<g clip-path="url(#coc)"><g opacity=".3"><line class="wg" x1="197.9" y1="745" x2="197.9" y2="192.8"/><line class="wg" x1="261.7" y1="698.6" x2="261.7" y2="146.4"/><line class="wg" x1="325.6" y1="652.1" x2="325.6" y2="99.9"/><line class="wg" x1="389.4" y1="605.7" x2="389.4" y2="53.5"/><line class="wg" x1="513.2" y1="576.7" x2="513.2" y2="24.5"/><line class="wg" x1="710.1" y1="634.3" x2="710.1" y2="82.1"/><line class="wg" x1="906.4" y1="691.7" x2="906.4" y2="139.5"/><line class="wg" x1="134" y1="653.5" x2="453.3" y2="421.2"/><line class="wg" x1="453.3" y1="421.2" x2="925.3" y2="559.2"/><line class="wg" x1="134" y1="515.4" x2="453.3" y2="283.1"/><line class="wg" x1="453.3" y1="283.1" x2="925.3" y2="421.1"/><line class="wg" x1="134" y1="377.3" x2="453.3" y2="145.1"/><line class="wg" x1="453.3" y1="145.1" x2="925.3" y2="283.1"/></g><g opacity=".7"><line class="be" x1="453.3" y1="559.2" x2="453.3" y2="7"/></g></g>
</g>
<polygon class="be" points="134,791.5 134,239.3 453.3,7 925.3,145 925.3,697.2 606,929.5"/>
<polyline class="be" points="134,239.3 606,377.3 925.3,145"/>
<line class="be" x1="606" y1="377.3" x2="606" y2="929.5"/>
<text class="tt" x="15" y="76.8">(c) 2320 K</text>
<text class="al" style="font-size:38.5px;letter-spacing:.5px" transform="translate(21,202.6) rotate(90)">Concentration (#/m<tspan class="sp" dy="-17">3</tspan><tspan dy="17" dx="-9">)</tspan></text>
<text class="tk" x="68.5" y="252">10<tspan class="ts" dy="-17.5" dx="3">20</tspan></text>
<text class="tk" x="66" y="395">10<tspan class="ts" dy="-17.5" dx="4">10</tspan></text>
<text class="tk" x="90" y="528">0</text>
<text class="tk tm" x="182" y="844.5">1</text>
<text class="tk tm" x="370.4" y="902.5">10</text>
<text class="tk tm" x="555" y="958">100</text>
<text class="al" transform="translate(154,881.5) rotate(16.30)">Particle diameter (nm)</text>
<text class="tk tm" x="623.6" y="955">0</text>
<text class="tk tm" x="696" y="909.2">20</text>
<text class="tk tm" x="760" y="864.2">40</text>
<text class="tk tm" x="822.3" y="817.2">60</text>
<text class="tk tm" x="885.7" y="771.2">80</text>
<text class="tk tm" x="958.8" y="725.2">100</text>
<text class="al" style="font-size:36.8px" transform="translate(738,946.5) rotate(-36.04)">Si content (at. %)</text>
</g>
<rect x="1058" y="1048" width="991.7" height="987" fill="#000"/>
<g transform="translate(1058,1048.7) scale(1,0.9988)">
<g filter="url(#bl1)">
<polygon fill="#000046" points="398,643.5 418.9,649.4 439.9,670.4 451.6,686.7 481.9,703.1 528.5,721.7 575.2,742.8 621.8,763.8 656.8,780.1 670.7,791.8 645.1,792.2 598.5,780.6 551.8,766.6 505.2,750.2 458.6,733.9 411.9,712.9 381.6,691.4 368.8,670.4 372.3,654.1"/>
<polygon fill="#000090" points="397.1,645 417,650.6 437.4,671 449.5,687.1 480.5,703.6 527.5,722.4 574.2,743.2 620.6,764 655,780.1 668.8,791.3 644.2,791.6 598.3,780.2 551.7,766.2 505.2,749.9 458.5,733.4 412.1,712.4 382.3,691 369.6,670.3 373,654.8"/>
<polygon fill="#0002d8" points="396.2,646.4 415.1,651.7 434.9,671.5 447.4,687.5 479.2,704.1 526.5,723 573.1,743.6 619.4,764.2 653.2,780.2 666.9,790.8 643.3,790.9 598.1,779.8 551.6,765.9 505.1,749.5 458.4,733 412.2,712 383,690.6 370.4,670.2 373.7,655.5"/>
<polygon fill="#0038e4" points="395.4,647.7 413.2,652.9 432.4,672.1 445.4,687.8 477.8,704.6 525.5,723.6 572.1,744 618.1,764.4 651.6,780.2 665.1,790.4 642.5,790.3 597.9,779.4 551.5,765.5 505.1,749.2 458.3,732.6 412.3,711.6 383.7,690.2 371.2,670.2 374.4,656.2"/>
<polygon fill="#006eef" points="394.6,649 411.5,654 430.2,672.6 443.4,688.2 476.4,705.2 524.5,724.2 571.1,744.4 617,764.6 650,780.2 663.3,789.9 641.7,789.7 597.8,779 551.4,765.2 505,748.9 458.2,732.1 412.4,711.1 384.3,689.8 372,670.1 375,656.8"/>
<polygon fill="#00aee6" points="393.8,650.3 409.8,655 427.9,673.1 441.6,688.5 475.2,705.6 523.6,724.7 570.2,744.7 615.9,764.8 648.3,780.3 661.4,789.4 640.9,789.1 597.6,778.7 551.3,764.9 505,748.6 458.1,731.7 412.5,710.8 384.9,689.5 372.7,670 375.7,657.4"/>
<polygon fill="#00cdbd" points="393,651.6 408,656.1 425.6,673.6 439.7,688.8 474,706.1 522.7,725.2 569.3,745.1 614.8,765 646.7,780.3 658.4,788.7 640.1,788.5 597.4,778.3 551.3,764.6 504.9,748.2 458,731.3 412.6,710.3 385.5,689.1 373.5,670 376.3,658.1"/>
<polygon fill="#00cd79" points="392.2,652.9 406.2,657.2 423.3,674.1 437.8,689.2 472.8,706.6 521.8,725.8 568.4,745.5 613.7,765.2 644.7,780.3 655,787.8 639.1,787.8 597.3,778 551.2,764.3 504.9,747.9 457.9,730.9 412.7,709.9 386.1,688.7 374.2,669.9 377,658.7"/>
<polygon fill="#07cd45" points="391.2,654.6 404.4,658.3 420.9,674.6 435.8,689.5 471.5,707.1 520.9,726.4 567.5,745.8 612.5,765.4 642.1,780.4 652.1,787.1 637.8,786.8 597.1,777.6 551.1,764 504.8,747.6 457.8,730.5 412.8,709.5 386.8,688.3 375,669.8 377.8,659.6"/>
<polygon fill="#14cd1e" points="389.9,656.7 401.7,660 418,675.3 433.9,689.9 470.2,707.6 519.9,726.9 566.6,746.2 611.4,765.6 639,780.5 652.1,787.1 636.2,785.7 596.9,777.2 551,763.6 504.8,747.3 457.7,730.1 413,709.1 387.5,687.9 376.1,669.7 378.9,660.6"/>
<polygon fill="#2bce00" points="388.4,659.2 398.5,661.9 414.4,676.1 431.7,690.2 469,708 519,727.5 565.6,746.6 610.1,765.9 635.9,780.5 652.1,787.1 634.7,784.5 596.7,776.8 550.9,763.3 504.7,747 457.6,729.7 413.1,708.7 388.5,687.3 377.4,669.6 380.1,661.9"/>
<polygon fill="#68d300" points="386.9,661.7 395.2,664 409.9,677.1 428.7,690.8 467.7,708.5 518.1,728 564.7,746.9 608.3,766.2 633.4,780.6 633.4,783.6 596.5,776.3 550.8,763 504.7,746.7 457.5,729.3 413.2,708.1 389.6,686.6 378.9,669.5 381.4,663.1"/>
<polygon fill="#a2d700" points="385.4,664.2 391.8,666.1 405.5,678 425.4,691.4 466,709.2 517,728.7 563.6,747.4 606.4,766.5 633.4,780.6 633.4,783.6 596.2,775.6 550.7,762.6 504.6,746.3 457.4,728.7 413.4,707.4 390.8,685.9 380.3,669.3 382.6,664.4"/>
<polygon fill="#d2d700" points="388.6,668.1 401.1,679 421.7,692 464,710 515.6,729.5 562.2,747.9 604.2,766.9 633.4,780.6 633.4,783.6 595.8,774.9 550.5,762.2 504.6,745.8 457.2,728.1 413.6,706.6 392,685.2 381.6,669.2"/>
<polygon fill="#e1b400" points="398,679.7 418,692.7 461.7,710.8 514.1,730.4 560.7,748.5 602.1,767.3 633.4,780.6 633.4,783.6 595.5,774.3 550.4,761.6 504.5,745.3 457,727.4 413.8,705.8 393.2,684.5 381.6,669.2"/>
<polygon fill="#e28100" points="398,679.7 414.4,693.3 459.3,711.8 512.3,731.5 558.9,749.3 599.9,767.7 633.4,780.6 633.4,783.6 595.2,773.6 550.2,761 504.4,744.7 456.8,726.6 414.1,705.1 393.3,684.4"/>
<polygon fill="#dc5300" points="411.9,693.7 456.9,712.7 510.5,732.6 557.2,750 598.5,768 595,773.1 550,760.4 504.3,744.1 456.7,725.8 414.3,704.3 393.3,684.4"/>
<polygon fill="#d72901" points="411.9,693.7 454.5,713.6 508.8,733.6 555.4,750.7 598.5,768 595,773.1 549.9,759.8 504.2,743.5 456.5,725 414.3,704.2"/>
<polygon fill="#d40e0a" points="411.9,693.7 452.1,714.5 507,734.7 553.6,751.4 598.5,768 595,773.1 549.7,759.2 504.1,742.9 456.3,724.3 414.3,704.2"/>
<polygon fill="#dd0334" points="451.6,714.7 505.2,735.8 551.8,752.1 598.5,768 595,773.1 549.5,758.6 504,742.3 456.2,724.1"/>
</g>
<line class="fg" x1="197.9" y1="745" x2="669.9" y2="883"/>
<line class="fg" x1="261.7" y1="698.6" x2="733.7" y2="836.6"/>
<line class="fg" x1="325.6" y1="652.1" x2="797.6" y2="790.1"/>
<line class="fg" x1="389.4" y1="605.7" x2="861.4" y2="743.7"/>
<line class="fg" x1="193.9" y1="809" x2="513.2" y2="576.7"/>
<line class="fg" x1="390.8" y1="866.6" x2="710.1" y2="634.3"/>
<line class="fg" x1="587.1" y1="924" x2="906.4" y2="691.7"/>
<line class="wg" x1="197.9" y1="745" x2="197.9" y2="192.8"/>
<line class="wg" x1="261.7" y1="698.6" x2="261.7" y2="146.4"/>
<line class="wg" x1="325.6" y1="652.1" x2="325.6" y2="99.9"/>
<line class="wg" x1="389.4" y1="605.7" x2="389.4" y2="53.5"/>
<line class="wg" x1="513.2" y1="576.7" x2="513.2" y2="24.5"/>
<line class="wg" x1="710.1" y1="634.3" x2="710.1" y2="82.1"/>
<line class="wg" x1="906.4" y1="691.7" x2="906.4" y2="139.5"/>
<line class="wg" x1="134" y1="653.5" x2="453.3" y2="421.2"/>
<line class="wg" x1="453.3" y1="421.2" x2="925.3" y2="559.2"/>
<line class="wg" x1="134" y1="515.4" x2="453.3" y2="283.1"/>
<line class="wg" x1="453.3" y1="283.1" x2="925.3" y2="421.1"/>
<line class="wg" x1="134" y1="377.3" x2="453.3" y2="145.1"/>
<line class="wg" x1="453.3" y1="145.1" x2="925.3" y2="283.1"/>
<line class="be" x1="453.3" y1="559.2" x2="453.3" y2="7"/>
<line class="be" x1="134" y1="791.5" x2="453.3" y2="559.2"/>
<line class="be" x1="453.3" y1="559.2" x2="925.3" y2="697.2"/>
<polygon class="pl" points="134,515.4 453.3,283.1 925.3,421.1 606,653.4"/>
<polygon fill="url(#chk)" points="134,515.4 453.3,283.1 925.3,421.1 606,653.4"/>
<g>
<clipPath id="csd"><path clip-rule="evenodd" d="M379 218.2 372.5 231.2 369.9 288.2 367.3 340.1 363.5 386.8 373.8 417.9 397.1 438.7 420.4 446.4 456.7 462 529.3 480.2 607 500.9 658.8 519.1 674.3 511.3 658.8 469.8 638.1 404.9 619.9 353.1 607 321.9 581.1 285.6 555.2 264.9 529.3 251.9 490.4 241.5 451.5 236.4 412.7 231.2 389.4 226ZM381.6 373.8 404.9 366 430.8 379 456.7 410.1 490.4 430.9 529.3 443.9 581.1 456.8 607 469.8 645.8 495.7 669.2 513.9 658.8 519.1 607 500.9 529.3 480.2 456.7 462 420.4 446.4 397.1 438.7 384.2 417.9Z"/></clipPath>
<g clip-path="url(#csd)">
<polygon fill="#7474f8" fill-opacity=".95" points="379,218.2 372.5,231.2 369.9,288.2 367.3,340.1 363.5,386.8 373.8,417.9 397.1,438.7 420.4,446.4 456.7,462 529.3,480.2 607,500.9 658.8,519.1 674.3,511.3 658.8,469.8 638.1,404.9 619.9,353.1 607,321.9 581.1,285.6 555.2,264.9 529.3,251.9 490.4,241.5 451.5,236.4 412.7,231.2 389.4,226"/>
<polygon fill="#3c3cff" fill-opacity=".8" filter="url(#bl3)" points="379,218.2 372.5,231.2 369.9,288.2 367.3,340.1 381.6,327.1 384.2,275.3 386.8,236.4"/>
<polygon fill="url(#stw)" points="379,218.2 372.5,231.2 369.9,288.2 367.3,340.1 363.5,386.8 373.8,417.9 397.1,438.7 420.4,446.4 456.7,462 529.3,480.2 607,500.9 658.8,519.1 674.3,511.3 658.8,469.8 638.1,404.9 619.9,353.1 607,321.9 581.1,285.6 555.2,264.9 529.3,251.9 490.4,241.5 451.5,236.4 412.7,231.2 389.4,226"/>
<polygon fill="url(#sgr)" points="379,218.2 372.5,231.2 369.9,288.2 367.3,340.1 363.5,386.8 373.8,417.9 397.1,438.7 420.4,446.4 456.7,462 529.3,480.2 607,500.9 658.8,519.1 674.3,511.3 658.8,469.8 638.1,404.9 619.9,353.1 607,321.9 581.1,285.6 555.2,264.9 529.3,251.9 490.4,241.5 451.5,236.4 412.7,231.2 389.4,226"/>
<polygon fill="none" stroke="#4a4af4" stroke-opacity=".55" stroke-width="2.2" points="486.1,388.8 484.2,392.6 483.4,409.8 482.6,425.3 481.4,439.3 484.5,448.7 491.5,454.9 498.5,457.2 509.4,461.9 531.2,467.3 554.5,473.6 570,479 574.7,476.7 570,464.2 563.8,444.8 558.4,429.2 554.5,419.9 546.7,409 538.9,402.8 531.2,398.9 519.5,395.8 507.9,394.2 496.2,392.6 489.2,391.1"/>
<polygon fill="none" stroke="#4a4af4" stroke-opacity=".55" stroke-width="2.2" points="455.5,340 452.3,346.5 451,375 449.7,401 447.7,424.3 452.9,439.9 464.6,450.3 476.2,454.2 494.4,461.9 530.6,471 569.5,481.4 595.4,490.5 603.2,486.6 595.4,465.8 585,433.4 576,407.5 569.5,391.9 556.5,373.7 543.6,363.4 530.6,356.9 511.2,351.7 491.8,349.1 472.3,346.5 460.7,343.9"/>
<polygon fill="none" stroke="#4a4af4" stroke-opacity=".55" stroke-width="2.2" points="424.9,291.3 420.4,300.4 418.5,340.3 416.7,376.6 414,409.3 421.3,431.1 437.6,445.6 453.9,451.1 479.3,462 530.1,474.7 584.5,489.2 620.8,501.9 631.6,496.5 620.8,467.4 606.2,422 593.5,385.7 584.5,363.9 566.3,338.5 548.2,324 530.1,314.9 502.9,307.6 475.7,304 448.5,300.4 432.2,296.7"/>
<polygon fill="none" stroke="#4a4af4" stroke-opacity=".55" stroke-width="2.2" points="401.9,254.7 396.4,265.8 394.2,314.3 392,358.4 388.7,398 397.5,424.5 417.4,442.1 437.2,448.8 468,462 529.7,477.4 595.7,495.1 639.8,510.5 653,503.9 639.8,468.6 622.2,413.5 606.7,369.4 595.7,342.9 573.7,312.1 551.7,294.4 529.7,283.4 496.6,274.6 463.6,270.2 430.6,265.8 410.8,261.4"/>
</g>
<polygon fill="#6e6e8c" fill-opacity=".2" points="381.6,373.8 404.9,366 430.8,379 456.7,410.1 490.4,430.9 529.3,443.9 581.1,456.8 607,469.8 645.8,495.7 669.2,513.9 658.8,519.1 607,500.9 529.3,480.2 456.7,462 420.4,446.4 397.1,438.7 384.2,417.9"/>
<polygon fill="url(#stt)" points="381.6,373.8 404.9,366 430.8,379 456.7,410.1 490.4,430.9 529.3,443.9 581.1,456.8 607,469.8 645.8,495.7 669.2,513.9 658.8,519.1 607,500.9 529.3,480.2 456.7,462 420.4,446.4 397.1,438.7 384.2,417.9"/>
<clipPath id="cod"><polygon points="379,218.2 372.5,231.2 369.9,288.2 367.3,340.1 363.5,386.8 373.8,417.9 397.1,438.7 420.4,446.4 456.7,462 529.3,480.2 607,500.9 658.8,519.1 674.3,511.3 658.8,469.8 638.1,404.9 619.9,353.1 607,321.9 581.1,285.6 555.2,264.9 529.3,251.9 490.4,241.5 451.5,236.4 412.7,231.2 389.4,226"/></clipPath>
<g clip-path="url(#cod)"><g opacity=".3"><line class="wg" x1="197.9" y1="745" x2="197.9" y2="192.8"/><line class="wg" x1="261.7" y1="698.6" x2="261.7" y2="146.4"/><line class="wg" x1="325.6" y1="652.1" x2="325.6" y2="99.9"/><line class="wg" x1="389.4" y1="605.7" x2="389.4" y2="53.5"/><line class="wg" x1="513.2" y1="576.7" x2="513.2" y2="24.5"/><line class="wg" x1="710.1" y1="634.3" x2="710.1" y2="82.1"/><line class="wg" x1="906.4" y1="691.7" x2="906.4" y2="139.5"/><line class="wg" x1="134" y1="653.5" x2="453.3" y2="421.2"/><line class="wg" x1="453.3" y1="421.2" x2="925.3" y2="559.2"/><line class="wg" x1="134" y1="515.4" x2="453.3" y2="283.1"/><line class="wg" x1="453.3" y1="283.1" x2="925.3" y2="421.1"/><line class="wg" x1="134" y1="377.3" x2="453.3" y2="145.1"/><line class="wg" x1="453.3" y1="145.1" x2="925.3" y2="283.1"/></g><g opacity=".7"><line class="be" x1="453.3" y1="559.2" x2="453.3" y2="7"/></g></g>
</g>
<polygon class="be" points="134,791.5 134,239.3 453.3,7 925.3,145 925.3,697.2 606,929.5"/>
<polyline class="be" points="134,239.3 606,377.3 925.3,145"/>
<line class="be" x1="606" y1="377.3" x2="606" y2="929.5"/>
<text class="tt" x="15" y="76.8">(d) 2270 K</text>
<text class="al" style="font-size:38.5px;letter-spacing:.5px" transform="translate(21,202.6) rotate(90)">Concentration (#/m<tspan class="sp" dy="-17">3</tspan><tspan dy="17" dx="-9">)</tspan></text>
<text class="tk" x="68.5" y="252">10<tspan class="ts" dy="-17.5" dx="3">20</tspan></text>
<text class="tk" x="66" y="395">10<tspan class="ts" dy="-17.5" dx="4">10</tspan></text>
<text class="tk" x="90" y="528">0</text>
<text class="tk tm" x="182" y="844.5">1</text>
<text class="tk tm" x="370.4" y="902.5">10</text>
<text class="tk tm" x="555" y="958">100</text>
<text class="al" transform="translate(154,881.5) rotate(16.30)">Particle diameter (nm)</text>
<text class="tk tm" x="623.6" y="955">0</text>
<text class="tk tm" x="696" y="909.2">20</text>
<text class="tk tm" x="760" y="864.2">40</text>
<text class="tk tm" x="822.3" y="817.2">60</text>
<text class="tk tm" x="885.7" y="771.2">80</text>
<text class="tk tm" x="958.8" y="725.2">100</text>
<text class="al" style="font-size:36.8px" transform="translate(738,946.5) rotate(-36.04)">Si content (at. %)</text>
</g>
<rect x="27" y="2073" width="991.5" height="987" fill="#000"/>
<g transform="translate(27,2073.3) scale(1,0.9985)">
<g filter="url(#bl1)">
<polygon fill="#000046" points="391.3,648 414.6,655 433.3,671.3 449.6,692.3 472.9,704 505.5,704 542.8,725 589.5,750.7 636.1,767.1 666.4,781.1 680.4,795.1 659.4,800.2 624.4,790.9 589.5,779.2 542.8,762.9 496.2,746.5 449.6,727.8 402.9,709.2 377.3,690 369.1,669 373.8,655"/>
<polygon fill="#000091" points="390.3,650.1 411.8,656.8 430.2,672.5 447.5,692.8 472.9,704 505.5,704 542.8,725 589,751.1 635.2,767.5 665,781.3 678.3,794.7 658.5,799.5 624.1,790.4 589.1,778.7 542.6,762.4 496.4,746 449.8,727.5 403.5,708.8 378.4,689.8 370.2,669.5 374.3,656.5"/>
<polygon fill="#0003d8" points="389.3,652.1 408.9,658.7 427.2,673.7 445.5,693.2 472.9,704 505.5,704 542.8,725 588.4,751.5 634.3,767.9 663.6,781.5 676.3,794.3 657.5,798.7 623.8,789.9 588.7,778.2 542.4,761.9 496.6,745.5 450.1,727.1 404,708.4 379.4,689.7 371.3,670.1 374.9,658"/>
<polygon fill="#0039e5" points="388.5,654 406.4,660.4 424.4,674.7 443.4,693.6 472.9,704 505.5,704 542.8,725 587.9,751.9 633.4,768.3 662.2,781.7 674.4,793.9 656.6,798 623.5,789.4 588.2,777.8 542.2,761.4 496.8,745 450.3,726.7 404.6,708.1 380.4,689.5 372.3,670.6 375.4,659.4"/>
<polygon fill="#0071ef" points="387.5,655.9 403.8,662.1 421.6,675.8 441.6,693.9 472.9,704 505.5,704 542.8,725.1 587.4,752.3 632.6,768.7 660.9,781.9 672.5,793.6 655.7,797.4 623.3,788.9 587.8,777.3 542,761 497.1,744.5 450.5,726.3 405.1,707.7 381.4,689.3 373.3,671.1 375.9,660.8"/>
<polygon fill="#00b1e5" points="386.6,657.8 401.1,663.8 418.8,676.9 439.7,694.3 472.9,704 505.5,704 542.4,726 587,752.6 631.8,769.1 659.6,782.2 670.6,793.2 654.9,796.7 623,788.4 587.5,776.8 541.9,760.5 497.2,744.1 450.7,726 405.6,707.4 382.4,689.2 374.3,671.6 376.4,662.3"/>
<polygon fill="#00cdb9" points="385.4,660.4 397.6,666.1 416,678 437.8,694.7 472.9,704 505.5,704 542,726.8 586.5,753 630.9,769.5 658.3,782.4 668.7,792.9 654,796 622.7,788 587.1,776.4 541.7,760.1 497.4,743.6 451,725.6 406.1,707 383.4,689 375.7,672.3 377.1,664.1"/>
<polygon fill="#00cd74" points="383.8,663.8 392.9,669.2 412.5,679.3 435.9,695.1 472.9,704 505.5,704 541.7,727.6 586,753.3 630.1,769.9 657,782.6 665.7,792.3 653.1,795.3 622.4,787.5 586.7,776 541.5,759.7 497.6,743.2 451.2,725.3 406.6,706.7 384.6,688.8 377.5,673.2 378,666.7"/>
<polygon fill="#08cd42" points="382.1,667.5 387.9,672.5 407.9,681 434,695.5 472.5,704.3 505.5,704 541.3,728.4 585.6,753.7 629.3,770.3 655.6,782.8 662.1,791.6 651.9,794.4 622.2,787 586.3,775.5 541.3,759.3 497.8,742.7 451.4,724.9 407.1,706.4 386.2,688.5 379.4,674.1 378.9,669.4"/>
<polygon fill="#15cd1b" points="384.3,674.8 402.6,683.1 431.8,695.9 470.9,705.3 505.5,704 541,729.1 585.1,754.1 628.4,770.7 653.6,783.1 658.5,790.9 650.5,793.2 621.9,786.6 586,775.1 541.1,758.8 498,742.3 451.6,724.6 407.7,705.9 388.1,688.2 380.8,674.8"/>
<polygon fill="#31cf00" points="384.3,674.8 397.2,685.1 428.8,696.5 469.3,706.3 505.5,704.5 540.6,729.8 584.6,754.4 627.5,771.1 651.3,783.5 655.9,790.4 648.8,791.9 621.6,786.1 585.6,774.6 540.9,758.4 498.2,741.8 451.9,724.2 408.5,705.4 390,687.9 380.8,674.8"/>
<polygon fill="#6fd400" points="393.6,686.5 425.3,697.2 467.8,707.3 505.2,706.3 540.3,730.6 584.1,754.8 626.2,771.7 648.8,783.9 655.9,790.4 647.1,790.6 621.1,785.3 585.2,774.2 540.7,757.9 498.4,741.3 452.2,723.6 409.4,704.8 391.3,687.7"/>
<polygon fill="#a8d700" points="393.6,686.5 421.7,697.9 466.3,708.3 505,707.9 539.9,731.4 583.5,755.2 624.8,772.3 646.3,784.3 655.9,790.4 645.5,789.3 620.7,784.6 584.7,773.6 540.5,757.4 498.7,740.7 452.6,723 410.4,704.1 391.3,687.7"/>
<polygon fill="#d8d700" points="393.6,686.5 418.1,698.7 464.6,709.4 504.8,709.5 539.6,732.1 582.8,755.8 623.2,773.1 644.3,784.6 645.4,789.3 620.1,783.7 584.1,772.9 540.2,756.8 499,739.9 453,722.3 411.3,703.5 391.3,687.7"/>
<polygon fill="#e1ad00" points="414.6,699.4 462.1,711 504.6,711.1 539.1,733.2 582,756.4 621.6,773.8 644.3,784.6 645.4,789.3 619.6,782.8 583.5,772.2 539.9,756.1 499.4,739.1 453.4,721.7 412.3,702.9"/>
<polygon fill="#e27a00" points="414.6,699.4 459.2,712.9 504.4,712.8 538.5,734.4 581.1,757.1 620,774.6 644.3,784.6 645.4,789.3 619.1,781.9 582.8,771.3 539.6,755.2 499.7,738.2 453.9,721 412.3,702.9"/>
<polygon fill="#db4c00" points="456.6,714.5 504,715.4 537.8,735.9 580.2,757.8 618.6,775.2 618.6,781.1 582,770.5 539.2,754.4 500.1,737.3 454.2,720.4"/>
<polygon fill="#d62403" points="456.6,714.5 503.6,718.4 537.2,737.3 579.3,758.5 618.6,775.2 618.6,781.1 581.3,769.6 538.9,753.6 500.5,736.5 454.2,720.4"/>
<polygon fill="#d4090c" points="456.6,714.5 503.2,721.4 536.5,738.8 578.4,759.2 618.6,775.2 618.6,781.1 580.6,768.8 538.5,752.7 500.9,735.6 454.2,720.4"/>
<polygon fill="#df023e" points="503.2,721.5 535.8,740.2 577.8,759.6 580.1,768.2 538.2,751.9 500.9,735.5"/>
</g>
<line class="fg" x1="197.9" y1="745" x2="669.9" y2="883"/>
<line class="fg" x1="261.7" y1="698.6" x2="733.7" y2="836.6"/>
<line class="fg" x1="325.6" y1="652.1" x2="797.6" y2="790.1"/>
<line class="fg" x1="389.4" y1="605.7" x2="861.4" y2="743.7"/>
<line class="fg" x1="193.9" y1="809" x2="513.2" y2="576.7"/>
<line class="fg" x1="390.8" y1="866.6" x2="710.1" y2="634.3"/>
<line class="fg" x1="587.1" y1="924" x2="906.4" y2="691.7"/>
<line class="wg" x1="197.9" y1="745" x2="197.9" y2="192.8"/>
<line class="wg" x1="261.7" y1="698.6" x2="261.7" y2="146.4"/>
<line class="wg" x1="325.6" y1="652.1" x2="325.6" y2="99.9"/>
<line class="wg" x1="389.4" y1="605.7" x2="389.4" y2="53.5"/>
<line class="wg" x1="513.2" y1="576.7" x2="513.2" y2="24.5"/>
<line class="wg" x1="710.1" y1="634.3" x2="710.1" y2="82.1"/>
<line class="wg" x1="906.4" y1="691.7" x2="906.4" y2="139.5"/>
<line class="wg" x1="134" y1="653.5" x2="453.3" y2="421.2"/>
<line class="wg" x1="453.3" y1="421.2" x2="925.3" y2="559.2"/>
<line class="wg" x1="134" y1="515.4" x2="453.3" y2="283.1"/>
<line class="wg" x1="453.3" y1="283.1" x2="925.3" y2="421.1"/>
<line class="wg" x1="134" y1="377.3" x2="453.3" y2="145.1"/>
<line class="wg" x1="453.3" y1="145.1" x2="925.3" y2="283.1"/>
<line class="be" x1="453.3" y1="559.2" x2="453.3" y2="7"/>
<line class="be" x1="134" y1="791.5" x2="453.3" y2="559.2"/>
<line class="be" x1="453.3" y1="559.2" x2="925.3" y2="697.2"/>
<polygon class="pl" points="134,515.4 453.3,283.1 925.3,421.1 606,653.4"/>
<polygon fill="url(#chk)" points="134,515.4 453.3,283.1 925.3,421.1 606,653.4"/>
<g>
<clipPath id="cse"><path clip-rule="evenodd" d="M468.4 245.4 429.6 248 395.9 254.4 377.8 264.8 371.3 285.6 368.7 329.7 364.8 368.6 363.5 394.5 372.6 415.3 390.7 430.9 421.8 443.8 463.3 462 520.3 477.6 572.1 493.1 623.9 513.9 662.7 526.9 686.1 516.5 675.7 485.4 657.6 420.5 636.8 355.6 618.7 316.7 592.8 285.6 559.1 262.2 520.3 249.3ZM372.6 373.8 403.7 368.6 429.6 384.2 455.5 415.3 507.3 433.5 546.2 446.4 598 472.4 649.8 498.3 680.9 516.5 662.7 526.9 623.9 513.9 572.1 493.1 520.3 477.6 463.3 462 421.8 443.8 390.7 430.9 375.2 415.3Z"/></clipPath>
<g clip-path="url(#cse)">
<polygon fill="#7474f8" fill-opacity=".95" points="468.4,245.4 429.6,248 395.9,254.4 377.8,264.8 371.3,285.6 368.7,329.7 364.8,368.6 363.5,394.5 372.6,415.3 390.7,430.9 421.8,443.8 463.3,462 520.3,477.6 572.1,493.1 623.9,513.9 662.7,526.9 686.1,516.5 675.7,485.4 657.6,420.5 636.8,355.6 618.7,316.7 592.8,285.6 559.1,262.2 520.3,249.3"/>
<polygon fill="#3c3cff" fill-opacity=".8" filter="url(#bl3)" points="377.8,264.8 371.3,285.6 368.7,329.7 364.8,368.6 380.4,353 382.9,303.7 390.7,272.6"/>
<polygon fill="url(#stw)" points="468.4,245.4 429.6,248 395.9,254.4 377.8,264.8 371.3,285.6 368.7,329.7 364.8,368.6 363.5,394.5 372.6,415.3 390.7,430.9 421.8,443.8 463.3,462 520.3,477.6 572.1,493.1 623.9,513.9 662.7,526.9 686.1,516.5 675.7,485.4 657.6,420.5 636.8,355.6 618.7,316.7 592.8,285.6 559.1,262.2 520.3,249.3"/>
<polygon fill="url(#sgr)" points="468.4,245.4 429.6,248 395.9,254.4 377.8,264.8 371.3,285.6 368.7,329.7 364.8,368.6 363.5,394.5 372.6,415.3 390.7,430.9 421.8,443.8 463.3,462 520.3,477.6 572.1,493.1 623.9,513.9 662.7,526.9 686.1,516.5 675.7,485.4 657.6,420.5 636.8,355.6 618.7,316.7 592.8,285.6 559.1,262.2 520.3,249.3"/>
<polygon fill="none" stroke="#4a4af4" stroke-opacity=".55" stroke-width="2.2" points="513.6,404.3 502,405.1 491.9,407 486.4,410.1 484.5,416.4 483.7,429.6 482.5,441.3 482.2,449 484.9,455.3 490.3,459.9 499.6,463.8 512.1,469.3 529.2,474 544.7,478.6 560.3,484.9 571.9,488.7 578.9,485.6 575.8,476.3 570.4,456.8 564.2,437.4 558.7,425.7 550.9,416.4 540.8,409.4 529.2,405.5"/>
<polygon fill="none" stroke="#4a4af4" stroke-opacity=".55" stroke-width="2.2" points="500.7,358.9 481.3,360.2 464.5,363.4 455.4,368.6 452.1,379 450.8,401 448.9,420.5 448.3,433.5 452.8,443.9 461.9,451.6 477.4,458.1 498.1,467.2 526.6,475 552.5,482.8 578.4,493.2 597.9,499.6 609.5,494.4 604.3,478.9 595.3,446.4 584.9,414 575.8,394.6 562.9,379 546.1,367.3 526.6,360.8"/>
<polygon fill="none" stroke="#4a4af4" stroke-opacity=".55" stroke-width="2.2" points="487.8,313.5 460.6,315.3 437,319.8 424.3,327.1 419.8,341.6 418,372.5 415.3,399.7 414.4,417.9 420.7,432.4 433.4,443.3 455.2,452.4 484.2,465.1 524.1,476 560.3,486.9 596.6,501.4 623.8,510.5 640.1,503.3 632.9,481.5 620.2,436.1 605.7,390.7 593,363.4 574.9,341.6 551.3,325.3 524.1,316.2"/>
<polygon fill="none" stroke="#4a4af4" stroke-opacity=".55" stroke-width="2.2" points="478.1,279.4 445.1,281.6 416.5,287.1 401.1,296 395.5,313.6 393.3,351.1 390,384.2 388.9,406.2 396.6,423.9 412.1,437.1 438.5,448.1 473.7,463.6 522.2,476.8 566.2,490 610.2,507.7 643.3,518.7 663.1,509.9 654.3,483.4 638.9,428.3 621.3,373.1 605.8,340.1 583.8,313.6 555.2,293.8 522.2,282.7"/>
</g>
<polygon fill="#6e6e8c" fill-opacity=".2" points="372.6,373.8 403.7,368.6 429.6,384.2 455.5,415.3 507.3,433.5 546.2,446.4 598,472.4 649.8,498.3 680.9,516.5 662.7,526.9 623.9,513.9 572.1,493.1 520.3,477.6 463.3,462 421.8,443.8 390.7,430.9 375.2,415.3"/>
<polygon fill="url(#stt)" points="372.6,373.8 403.7,368.6 429.6,384.2 455.5,415.3 507.3,433.5 546.2,446.4 598,472.4 649.8,498.3 680.9,516.5 662.7,526.9 623.9,513.9 572.1,493.1 520.3,477.6 463.3,462 421.8,443.8 390.7,430.9 375.2,415.3"/>
<clipPath id="coe"><polygon points="468.4,245.4 429.6,248 395.9,254.4 377.8,264.8 371.3,285.6 368.7,329.7 364.8,368.6 363.5,394.5 372.6,415.3 390.7,430.9 421.8,443.8 463.3,462 520.3,477.6 572.1,493.1 623.9,513.9 662.7,526.9 686.1,516.5 675.7,485.4 657.6,420.5 636.8,355.6 618.7,316.7 592.8,285.6 559.1,262.2 520.3,249.3"/></clipPath>
<g clip-path="url(#coe)"><g opacity=".3"><line class="wg" x1="197.9" y1="745" x2="197.9" y2="192.8"/><line class="wg" x1="261.7" y1="698.6" x2="261.7" y2="146.4"/><line class="wg" x1="325.6" y1="652.1" x2="325.6" y2="99.9"/><line class="wg" x1="389.4" y1="605.7" x2="389.4" y2="53.5"/><line class="wg" x1="513.2" y1="576.7" x2="513.2" y2="24.5"/><line class="wg" x1="710.1" y1="634.3" x2="710.1" y2="82.1"/><line class="wg" x1="906.4" y1="691.7" x2="906.4" y2="139.5"/><line class="wg" x1="134" y1="653.5" x2="453.3" y2="421.2"/><line class="wg" x1="453.3" y1="421.2" x2="925.3" y2="559.2"/><line class="wg" x1="134" y1="515.4" x2="453.3" y2="283.1"/><line class="wg" x1="453.3" y1="283.1" x2="925.3" y2="421.1"/><line class="wg" x1="134" y1="377.3" x2="453.3" y2="145.1"/><line class="wg" x1="453.3" y1="145.1" x2="925.3" y2="283.1"/></g><g opacity=".7"><line class="be" x1="453.3" y1="559.2" x2="453.3" y2="7"/></g></g>
</g>
<polygon class="be" points="134,791.5 134,239.3 453.3,7 925.3,145 925.3,697.2 606,929.5"/>
<polyline class="be" points="134,239.3 606,377.3 925.3,145"/>
<line class="be" x1="606" y1="377.3" x2="606" y2="929.5"/>
<text class="tt" x="15" y="76.8">(e) 2210 K</text>
<text class="al" style="font-size:38.5px;letter-spacing:.5px" transform="translate(21,202.6) rotate(90)">Concentration (#/m<tspan class="sp" dy="-17">3</tspan><tspan dy="17" dx="-9">)</tspan></text>
<text class="tk" x="68.5" y="252">10<tspan class="ts" dy="-17.5" dx="3">20</tspan></text>
<text class="tk" x="66" y="395">10<tspan class="ts" dy="-17.5" dx="4">10</tspan></text>
<text class="tk" x="90" y="528">0</text>
<text class="tk tm" x="182" y="844.5">1</text>
<text class="tk tm" x="370.4" y="902.5">10</text>
<text class="tk tm" x="555" y="958">100</text>
<text class="al" transform="translate(154,881.5) rotate(16.30)">Particle diameter (nm)</text>
<text class="tk tm" x="623.6" y="955">0</text>
<text class="tk tm" x="696" y="909.2">20</text>
<text class="tk tm" x="760" y="864.2">40</text>
<text class="tk tm" x="822.3" y="817.2">60</text>
<text class="tk tm" x="885.7" y="771.2">80</text>
<text class="tk tm" x="958.8" y="725.2">100</text>
<text class="al" style="font-size:36.8px" transform="translate(738,946.5) rotate(-36.04)">Si content (at. %)</text>
</g>
<rect x="1058" y="2073" width="991.7" height="987" fill="#000"/>
<g transform="translate(1058,2073) scale(1,0.9968)">
<g filter="url(#bl1)">
<polygon fill="#000046" points="390.5,691.4 426.8,696.6 465.6,697.9 517.4,697.9 569.3,720 621.1,740.8 672.9,761.6 711.7,782.4 735.1,800.5 724.7,808.3 685.8,805.7 647,797.9 595.2,782.4 543.3,764.2 491.5,743.4 439.7,722.6 406,707"/>
<polygon fill="#00008d" points="394,692.9 428,697.6 465.6,697.9 517.4,697.9 569.3,720 620.8,741.6 672.4,762.3 710.7,783 733,800.3 723.4,807.6 685.5,805 646.7,797.3 595.2,781.8 543.6,763.5 492,742.6 440.4,721.8 407.8,706.7"/>
<polygon fill="#0000d4" points="397.2,694.4 429.2,698.6 465.6,697.9 517.4,697.9 569.3,720 620.6,742.4 671.8,763.1 709.7,783.6 730.9,800.1 722.2,806.9 685.2,804.3 646.5,796.6 595.2,781.2 543.8,762.9 492.4,741.9 441.1,721 409.5,706.5"/>
<polygon fill="#0031e3" points="400.4,695.8 430.3,699.4 466.4,698.9 517.4,697.9 569.3,721 620.4,743.3 671.3,763.9 708.7,784.2 729.1,799.9 721.1,806.2 684.9,803.5 646.3,796 595.2,780.7 544.1,762.2 492.9,741.1 441.7,720.2 411.1,706.2"/>
<polygon fill="#0065ef" points="403.9,697.5 431.5,700.4 467.3,699.9 517.4,697.9 569.3,722 620.2,744.1 670.8,764.6 707.7,784.7 727.1,799.7 719.9,805.6 684.7,802.8 646,795.3 595.2,780.1 544.3,761.6 493.3,740.5 442.4,719.5 412.8,706"/>
<polygon fill="#00a1e8" points="409.5,700 432.6,701.3 468,700.9 517.8,699.2 569.3,723.1 620,744.9 670.4,765.3 706.8,785.3 725.2,799.4 718.8,804.9 684.4,802.2 645.8,794.8 595.2,779.6 544.5,761 493.7,739.8 443,718.7 415.4,705.6"/>
<polygon fill="#00cdcf" points="415.6,702.7 434.2,702.6 468.8,701.8 518.1,700.6 569.3,724.1 619.8,745.6 669.9,766.1 705.8,785.8 723,799.2 717.6,804.2 684.1,801.5 645.6,794.2 595.2,779.1 544.7,760.4 494.1,739.1 443.8,717.9 418.6,705.2"/>
<polygon fill="#00cd8c" points="416.4,703.1 436.3,704.2 469.5,702.8 518.5,702 569.3,725 619.6,746.4 669.4,766.8 704.9,786.4 719.8,798.8 716,803.3 683.9,800.8 645.4,793.6 595.2,778.6 544.9,759.8 494.5,738.4 444.8,716.6 420.3,704.9"/>
<polygon fill="#03cd51" points="416.4,703.1 438.5,706 470.3,703.8 518.8,703.3 569.3,725.9 619.4,747.2 668.9,767.5 703.7,787.1 716.1,798.4 714,802.1 683.6,800.1 645.2,793 595.2,778.1 545.1,759.2 494.9,737.7 446,715.2 420.3,704.9"/>
<polygon fill="#0fcd2d" points="439.7,707 471.3,705.1 519.1,704.6 569.3,726.9 619.2,748 668.5,768.2 702.2,788 712.4,798 711.8,800.8 683.3,799.4 645,792.4 595.2,777.6 545.4,758.6 495.3,737 447.3,713.8 420.3,704.9"/>
<polygon fill="#1bcd08" points="439.7,707 472.7,706.7 519.5,706 569.3,727.9 618.9,748.7 668,768.9 700.3,789 711.7,797.9 709.6,799.5 682.9,798.3 644.7,791.8 595.2,777 545.6,758 496,735.9 447.5,713.5"/>
<polygon fill="#4cd100" points="439.7,707 474.1,708.6 519.8,707.3 569.3,728.8 618.7,749.5 667.3,770 698.5,790.1 711.7,797.9 709.2,799.2 682.4,797.1 644.5,791.2 595.2,776.5 545.8,757.4 496.7,734.7 447.5,713.5"/>
<polygon fill="#87d600" points="439.7,707 475.6,710.4 520.2,709 569.3,729.8 618.5,750.4 666.5,771.2 696.7,791.2 711.7,797.9 709.2,799.2 681.9,795.8 644.2,790.3 595.2,775.9 546.1,756.5 497.5,733.4 447.5,713.5"/>
<polygon fill="#b8d700" points="476,710.9 520.8,711.2 569.3,731.2 618.2,751.6 665.6,772.5 696.2,791.4 709.2,799.2 681.3,794.5 643.9,789.3 595.2,775.1 546.5,755.6 498.3,732.1 447.5,713.5"/>
<polygon fill="#e1d200" points="476,710.9 521.4,713.8 569.3,732.7 617.9,752.9 664.7,773.9 696.2,791.4 709.2,799.2 680.8,793.1 643.4,788.2 595.2,774.3 546.9,754.4 499.1,730.8 447.5,713.5"/>
<polygon fill="#e2a100" points="476,710.9 522,716.3 569.3,734.5 617.5,754.3 663.7,775.3 696.2,791.4 680.7,792.7 643,787.1 595.2,773.3 547.3,753.3 499.3,730.4"/>
<polygon fill="#e07100" points="522.6,718.7 569.3,736.4 617.1,755.8 662.8,776.7 696.2,791.4 680.7,792.7 642.6,785.9 595.2,772.3 547.7,752.1 499.3,730.4"/>
<polygon fill="#da4600" points="522.6,718.7 569.3,738.2 616.7,757.3 662.5,777.2 680.7,792.7 642.2,784.8 595.2,771.3 548.1,751 499.3,730.4"/>
<polygon fill="#d62204" points="522.6,718.7 569.3,740.1 616.3,758.8 662.5,777.2 641.8,783.7 595.2,770.3 548.5,749.9"/>
<polygon fill="#d4080c" points="569.3,740.8 615.9,760.3 662.5,777.2 641.8,783.7 595.2,769.4 548.5,749.9"/>
</g>
<line class="fg" x1="197.9" y1="745" x2="669.9" y2="883"/>
<line class="fg" x1="261.7" y1="698.6" x2="733.7" y2="836.6"/>
<line class="fg" x1="325.6" y1="652.1" x2="797.6" y2="790.1"/>
<line class="fg" x1="389.4" y1="605.7" x2="861.4" y2="743.7"/>
<line class="fg" x1="193.9" y1="809" x2="513.2" y2="576.7"/>
<line class="fg" x1="390.8" y1="866.6" x2="710.1" y2="634.3"/>
<line class="fg" x1="587.1" y1="924" x2="906.4" y2="691.7"/>
<line class="wg" x1="197.9" y1="745" x2="197.9" y2="192.8"/>
<line class="wg" x1="261.7" y1="698.6" x2="261.7" y2="146.4"/>
<line class="wg" x1="325.6" y1="652.1" x2="325.6" y2="99.9"/>
<line class="wg" x1="389.4" y1="605.7" x2="389.4" y2="53.5"/>
<line class="wg" x1="513.2" y1="576.7" x2="513.2" y2="24.5"/>
<line class="wg" x1="710.1" y1="634.3" x2="710.1" y2="82.1"/>
<line class="wg" x1="906.4" y1="691.7" x2="906.4" y2="139.5"/>
<line class="wg" x1="134" y1="653.5" x2="453.3" y2="421.2"/>
<line class="wg" x1="453.3" y1="421.2" x2="925.3" y2="559.2"/>
<line class="wg" x1="134" y1="515.4" x2="453.3" y2="283.1"/>
<line class="wg" x1="453.3" y1="283.1" x2="925.3" y2="421.1"/>
<line class="wg" x1="134" y1="377.3" x2="453.3" y2="145.1"/>
<line class="wg" x1="453.3" y1="145.1" x2="925.3" y2="283.1"/>
<line class="be" x1="453.3" y1="559.2" x2="453.3" y2="7"/>
<line class="be" x1="134" y1="791.5" x2="453.3" y2="559.2"/>
<line class="be" x1="453.3" y1="559.2" x2="925.3" y2="697.2"/>
<polygon class="pl" points="134,515.4 453.3,283.1 925.3,421.1 606,653.4"/>
<polygon fill="url(#chk)" points="134,515.4 453.3,283.1 925.3,421.1 606,653.4"/>
<g>
<clipPath id="csf"><path clip-rule="evenodd" d="M526.7 261.5 490.9 273.4 461.2 288.4 431.4 315.2 410.5 348.1 395.6 387 386.7 413.9 416.5 437.8 452.2 455.7 520.7 476.6 595.2 503.5 669.7 524.4 714.4 533.4 741.2 524.4 729.3 491.6 714.4 431.8 699.5 387 684.6 348.1 663.7 315.2 625 288.4 580.3 273.4 550.5 265.9ZM386.7 413.9 461.2 416.9 505.8 413.9 550.5 422.8 595.2 446.7 639.9 470.6 684.6 488.6 729.3 512.5 741.2 524.4 714.4 533.4 669.7 524.4 595.2 503.5 520.7 476.6 452.2 455.7 416.5 437.8Z"/></clipPath>
<g clip-path="url(#csf)">
<polygon fill="#7474f8" fill-opacity=".95" points="526.7,261.5 490.9,273.4 461.2,288.4 431.4,315.2 410.5,348.1 395.6,387 386.7,413.9 416.5,437.8 452.2,455.7 520.7,476.6 595.2,503.5 669.7,524.4 714.4,533.4 741.2,524.4 729.3,491.6 714.4,431.8 699.5,387 684.6,348.1 663.7,315.2 625,288.4 580.3,273.4 550.5,265.9"/>
<polygon fill="url(#stw)" points="526.7,261.5 490.9,273.4 461.2,288.4 431.4,315.2 410.5,348.1 395.6,387 386.7,413.9 416.5,437.8 452.2,455.7 520.7,476.6 595.2,503.5 669.7,524.4 714.4,533.4 741.2,524.4 729.3,491.6 714.4,431.8 699.5,387 684.6,348.1 663.7,315.2 625,288.4 580.3,273.4 550.5,265.9"/>
<polygon fill="url(#sgr)" points="526.7,261.5 490.9,273.4 461.2,288.4 431.4,315.2 410.5,348.1 395.6,387 386.7,413.9 416.5,437.8 452.2,455.7 520.7,476.6 595.2,503.5 669.7,524.4 714.4,533.4 741.2,524.4 729.3,491.6 714.4,431.8 699.5,387 684.6,348.1 663.7,315.2 625,288.4 580.3,273.4 550.5,265.9"/>
<polygon fill="none" stroke="#4a4af4" stroke-opacity=".55" stroke-width="2.2" points="565.4,420.4 554.7,424 545.7,428.5 536.8,436.6 530.6,446.4 526.1,458.1 523.4,466.2 532.3,473.3 543.1,478.7 563.6,485 586,493 608.3,499.3 621.7,502 629.7,499.3 626.2,489.5 621.7,471.5 617.2,458.1 612.8,446.4 606.5,436.6 594.9,428.5 581.5,424 572.6,421.8"/>
<polygon fill="none" stroke="#4a4af4" stroke-opacity=".55" stroke-width="2.2" points="554.3,375 536.5,381 521.6,388.5 506.7,401.9 496.3,418.3 488.8,437.8 484.3,451.2 499.2,463.2 517.1,472.1 551.4,482.6 588.6,496 625.8,506.5 648.2,511 661.6,506.5 655.6,490.1 648.2,460.2 640.7,437.8 633.3,418.3 622.9,401.9 603.5,388.5 581.2,381 566.3,377.3"/>
<polygon fill="none" stroke="#4a4af4" stroke-opacity=".55" stroke-width="2.2" points="543.3,329.6 518.3,338 497.4,348.4 476.6,367.2 462,390.3 451.5,417.4 445.3,436.3 466.1,453 491.2,465.6 539.1,480.2 591.2,499 643.4,513.7 674.6,520 693.4,513.7 685.1,490.7 674.6,448.8 664.2,417.4 653.8,390.3 639.2,367.2 612.1,348.4 580.8,338 560,332.7"/>
<polygon fill="none" stroke="#4a4af4" stroke-opacity=".55" stroke-width="2.2" points="535,295.5 504.6,305.7 479.3,318.4 454,341.2 436.2,369.2 423.6,402.2 416,425.1 441.3,445.4 471.7,460.6 529.9,478.4 593.2,501.3 656.5,519.1 694.5,526.7 717.3,519.1 707.2,491.1 694.5,440.3 681.8,402.2 669.2,369.2 651.5,341.2 618.5,318.4 580.6,305.7 555.2,299.3"/>
</g>
<polygon fill="#6e6e8c" fill-opacity=".2" points="386.7,413.9 461.2,416.9 505.8,413.9 550.5,422.8 595.2,446.7 639.9,470.6 684.6,488.6 729.3,512.5 741.2,524.4 714.4,533.4 669.7,524.4 595.2,503.5 520.7,476.6 452.2,455.7 416.5,437.8"/>
<polygon fill="url(#stt)" points="386.7,413.9 461.2,416.9 505.8,413.9 550.5,422.8 595.2,446.7 639.9,470.6 684.6,488.6 729.3,512.5 741.2,524.4 714.4,533.4 669.7,524.4 595.2,503.5 520.7,476.6 452.2,455.7 416.5,437.8"/>
<clipPath id="cof"><polygon points="526.7,261.5 490.9,273.4 461.2,288.4 431.4,315.2 410.5,348.1 395.6,387 386.7,413.9 416.5,437.8 452.2,455.7 520.7,476.6 595.2,503.5 669.7,524.4 714.4,533.4 741.2,524.4 729.3,491.6 714.4,431.8 699.5,387 684.6,348.1 663.7,315.2 625,288.4 580.3,273.4 550.5,265.9"/></clipPath>
<g clip-path="url(#cof)"><g opacity=".3"><line class="wg" x1="197.9" y1="745" x2="197.9" y2="192.8"/><line class="wg" x1="261.7" y1="698.6" x2="261.7" y2="146.4"/><line class="wg" x1="325.6" y1="652.1" x2="325.6" y2="99.9"/><line class="wg" x1="389.4" y1="605.7" x2="389.4" y2="53.5"/><line class="wg" x1="513.2" y1="576.7" x2="513.2" y2="24.5"/><line class="wg" x1="710.1" y1="634.3" x2="710.1" y2="82.1"/><line class="wg" x1="906.4" y1="691.7" x2="906.4" y2="139.5"/><line class="wg" x1="134" y1="653.5" x2="453.3" y2="421.2"/><line class="wg" x1="453.3" y1="421.2" x2="925.3" y2="559.2"/><line class="wg" x1="134" y1="515.4" x2="453.3" y2="283.1"/><line class="wg" x1="453.3" y1="283.1" x2="925.3" y2="421.1"/><line class="wg" x1="134" y1="377.3" x2="453.3" y2="145.1"/><line class="wg" x1="453.3" y1="145.1" x2="925.3" y2="283.1"/></g><g opacity=".7"><line class="be" x1="453.3" y1="559.2" x2="453.3" y2="7"/></g></g>
</g>
<polygon class="be" points="134,791.5 134,239.3 453.3,7 925.3,145 925.3,697.2 606,929.5"/>
<polyline class="be" points="134,239.3 606,377.3 925.3,145"/>
<line class="be" x1="606" y1="377.3" x2="606" y2="929.5"/>
<text class="tt" x="15" y="76.8">(f) 1716 K</text>
<text class="al" style="font-size:38.5px;letter-spacing:.5px" transform="translate(21,202.6) rotate(90)">Concentration (#/m<tspan class="sp" dy="-17">3</tspan><tspan dy="17" dx="-9">)</tspan></text>
<text class="tk" x="68.5" y="252">10<tspan class="ts" dy="-17.5" dx="3">20</tspan></text>
<text class="tk" x="66" y="395">10<tspan class="ts" dy="-17.5" dx="4">10</tspan></text>
<text class="tk" x="90" y="528">0</text>
<text class="tk tm" x="182" y="844.5">1</text>
<text class="tk tm" x="370.4" y="902.5">10</text>
<text class="tk tm" x="555" y="958">100</text>
<text class="al" transform="translate(154,881.5) rotate(16.30)">Particle diameter (nm)</text>
<text class="tk tm" x="623.6" y="955">0</text>
<text class="tk tm" x="696" y="909.2">20</text>
<text class="tk tm" x="760" y="864.2">40</text>
<text class="tk tm" x="822.3" y="817.2">60</text>
<text class="tk tm" x="885.7" y="771.2">80</text>
<text class="tk tm" x="958.8" y="725.2">100</text>
<text class="al" style="font-size:36.8px" transform="translate(738,946.5) rotate(-36.04)">Si content (at. %)</text>
</g>
<rect x="1091.5" y="3096.3" width="921.5" height="51" fill="#dcdcd4"/>
<rect x="1093" y="3097.6" width="918.6" height="48.4" fill="url(#cbar)"/>
<rect x="1093" y="3097.6" width="918.6" height="2" fill="#000" fill-opacity=".3"/>
<rect x="1093" y="3144" width="918.6" height="2" fill="#000" fill-opacity=".3"/>
<rect x="2007.4" y="3097.6" width="4.2" height="48.4" fill="#2c2c2c"/>
<text class="bt" x="458" y="3218.7">Concentration (#/m<tspan class="bs" dy="-18.5">3</tspan><tspan dy="18.5">) : 10</tspan><tspan class="bs" dy="-18.5" dx="1.5">0</tspan></text>
<text class="bt" x="1974" y="3218.7">10<tspan class="bs" dy="-18.5" dx="1">20</tspan></text>
<path d="M1181 3197.4 L1205 3187 L1203 3195 L1915 3195 L1913 3187 L1937 3197.4 L1913 3208 L1915 3200 L1203 3200 L1205 3208 Z" fill="#000"/>
</svg></body></html>
